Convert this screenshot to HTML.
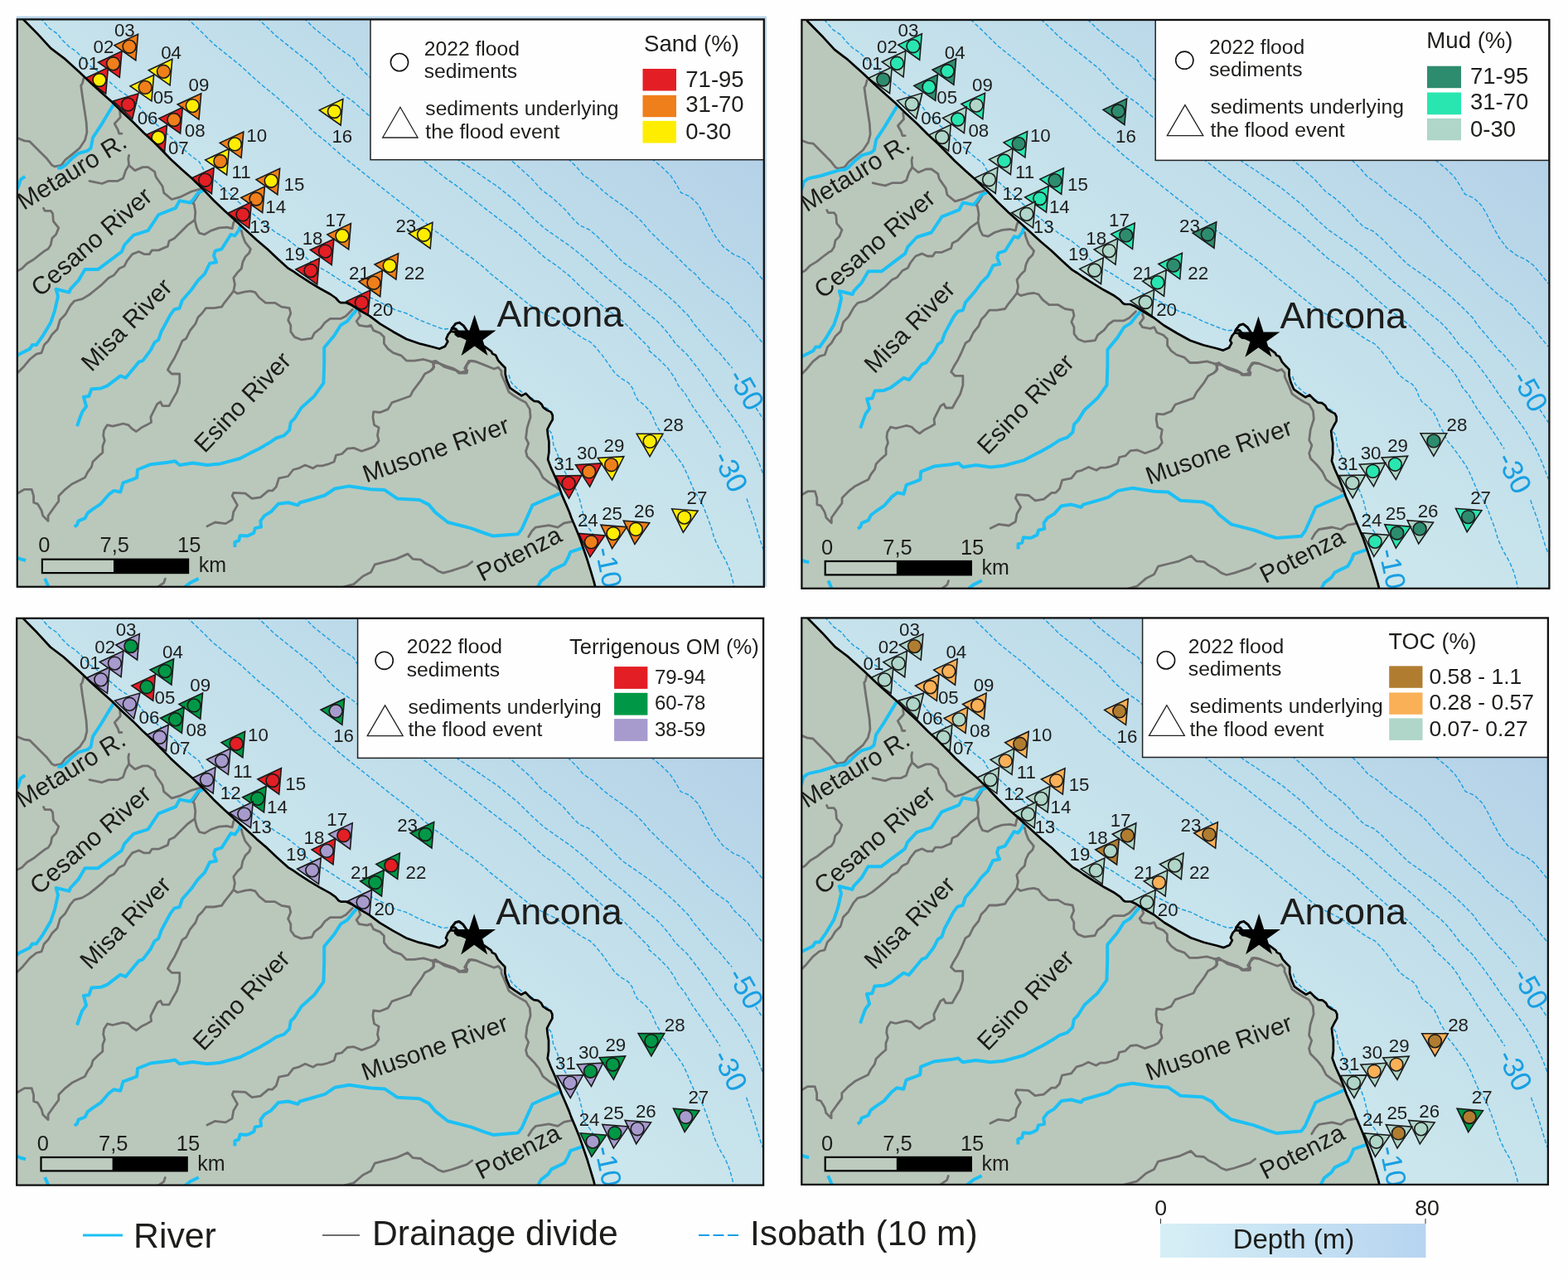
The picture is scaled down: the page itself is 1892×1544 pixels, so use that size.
<!DOCTYPE html>
<html lang="en"><head><meta charset="utf-8"><title>Sediment maps</title>
<style>html,body{margin:0;padding:0;background:#fff}svg{display:block}text{font-family:"Liberation Sans", Arial, sans-serif}</style></head><body>
<svg xmlns="http://www.w3.org/2000/svg" width="1892" height="1544" viewBox="0 0 1892 1544">
<rect width="1892" height="1544" fill="#fefefe"/>
<defs>
<clipPath id="cp1"><rect x="20.8" y="23.4" width="901" height="684.4"/></clipPath>
<linearGradient id="sea1" gradientUnits="userSpaceOnUse" x1="60" y1="170" x2="388.7" y2="-283.6">
<stop offset="0" stop-color="#cbe6ec"/><stop offset="0.45" stop-color="#c0ddea"/><stop offset="1" stop-color="#b0cde7"/></linearGradient>
<clipPath id="cp2"><rect x="967.4" y="24" width="902" height="685.8"/></clipPath>
<linearGradient id="sea2" gradientUnits="userSpaceOnUse" x1="1005.8" y1="171.8" x2="1334.5" y2="-281.8">
<stop offset="0" stop-color="#cbe6ec"/><stop offset="0.45" stop-color="#c0ddea"/><stop offset="1" stop-color="#b0cde7"/></linearGradient>
<clipPath id="cp3"><rect x="20.2" y="745.8" width="900.9" height="683.8"/></clipPath>
<linearGradient id="sea3" gradientUnits="userSpaceOnUse" x1="59.6" y1="892.4" x2="388.3" y2="438.8">
<stop offset="0" stop-color="#cbe6ec"/><stop offset="0.45" stop-color="#c0ddea"/><stop offset="1" stop-color="#b0cde7"/></linearGradient>
<clipPath id="cp4"><rect x="967.3" y="745.4" width="900.6" height="683.5"/></clipPath>
<linearGradient id="sea4" gradientUnits="userSpaceOnUse" x1="1006.5" y1="892.3" x2="1335.2" y2="438.7">
<stop offset="0" stop-color="#cbe6ec"/><stop offset="0.45" stop-color="#c0ddea"/><stop offset="1" stop-color="#b0cde7"/></linearGradient>
<linearGradient id="depth" x1="0" y1="0" x2="1" y2="0"><stop offset="0" stop-color="#d6eff6"/><stop offset="1" stop-color="#b6d4f0"/></linearGradient>
</defs>
<rect x="19.8" y="19.6" width="905.2" height="688.2" fill="#b5d3ea"/>
<g clip-path="url(#cp1)">
<rect x="20.8" y="23.4" width="901" height="684.4" fill="url(#sea1)"/>
<g fill="none" stroke="#189fe2" stroke-width="1.4" stroke-dasharray="5 2.6">
<path d="M48.6 21.6 L59.7 34.3 L69.2 40.6 L74.7 47.8 L83.5 56.5 L91.4 61.6 L102.5 72.4 L108.8 79.5 L116.8 85 L131.1 97.7 L143.7 108.8 L154.8 116 L166 125.5 L172.3 134.2 L185 146.9 L194.5 154.8 L204 163.6 L218.3 177.1 L231 188.2 L240.5 195.3 L245.3 204 L258 216.7 L273.8 231 L289.7 245.3 L299.2 253.2 L315.9 267 L331.7 279.7 L347.6 289.2 L363.5 301.9 L369.8 311.4 L382.5 320.9 L395.2 328 L411.1 338.4 L426.9 347.9 L436.4 354.2 L450.7 360.6 L466.6 368.5 L477.7 374.1 L490.4 378 L506.2 386 L522.1 392.3 L534.8 397.1 L542.7 396.3"/>
<path d="M613.9 452.2 L617.1 461.7 L623.5 468 L631.4 474.4 L642.5 480.7 L650.4 487.1 L661.5 493.4 L659.1 506.2 L661.5 517.4 L666.2 523.7 L667.8 536.4 L672.6 547.5 L677.4 561.8 L683.7 572.9 L694.8 590.3 L699.6 603 L702.7 615.7 L705.9 631.6 L712.3 639.5 L715.4 644.3 L718.6 655.4"/>
<path d="M225.4 21.6 L242.1 37.5 L258 53.3 L273.8 66 L289.7 78.7 L300 88.2 L315.9 102.5 L331.7 115.2 L347.6 129.5 L363.5 143.7 L379.3 159.6 L395.2 172.3 L411.1 186.6 L426.9 199.3 L442.8 212 L458.6 224.7 L474.5 237.3 L490.4 249.5 L506.2 262.2 L522.1 276.5 L538 287.6 L553.8 300.3 L569.7 311.4 L585.6 324.1 L591.7 330 L607.6 342.7 L623.5 355.4 L639.3 368.1 L655.2 377.6 L671.1 385.5 L686.9 396.6 L702.8 407.7 L712.3 412.5 L718.6 418.8 L726.6 428.4 L734.5 439.5 L742.4 450.6 L750.4 456.9 L758.3 461.7 L763.1 468 L766.2 476 L769.4 482.3 L777.3 488.6 L783.7 495 L788.5 504.5 L791.6 512.4 L796.4 520.4 L799.5 528.5 L807.4 538 L815.4 549.1 L823.3 560.2 L828.1 569.7 L832.8 580.8 L837.6 591.9 L843.9 601.4 L848.7 611 L853.5 623.6 L858.2 636.3 L861.4 647.4 L864.6 655.4 L869.3 664.9 L875.7 676 L880.4 687.1 L883.6 698.2 L886.4 710.1"/>
<path d="M310.3 21.6 L323.8 34.3 L331.7 42.2 L347.6 54.9 L363.5 67.6 L379.3 80.3 L388.8 89.8 L395.2 97.7 L401.5 104.1 L411.1 112 L426.9 123.1 L442.8 137.4 L511 193.7 L522.1 202.4 L538 215.1 L553.8 226.2 L569.7 238.9 L585.6 251.6 L600 262.7 L625 281.5 L640.9 295.8 L656.7 310.1 L672.6 321.2 L688.5 333.9 L701.2 346.6 L713.8 357.7 L726.5 368.8 L739.2 378.3 L751.9 387.8 L761.4 397.3 L771 406.9 L783.6 419.6 L782.1 422 L794.8 433.1 L805.9 444.2 L813.8 455.3 L818.5 465 L826.5 474.5 L836 490.4 L847.1 506.2 L855 517.4 L863 530 L869.3 539.6"/>
<path d="M901 601.4 L904.2 611 L909 623.6 L913.7 639.5 L918.5 655.4 L922.5 666.5"/>
<path d="M366.6 21.6 L379.3 34.3 L395.2 47 L411.1 59.7 L426.9 70.8 L431.7 78.7 L438 85 L446 93 L553.8 193.7 L569.7 204 L585.6 215.1 L600 224.7 L625 245 L640.9 260.9 L656.7 275.2 L672.6 286.3 L688.5 297.4 L704.3 310.1 L720.2 324.4 L736.1 338.6 L751.9 351.3 L764.6 362.4 L775.7 373.5 L791.6 386.2 L799.5 394.2 L807.4 403.7 L815.4 414.8 L829.7 428.4 L845.6 449 L853.5 460.1 L860 469.6 L863 474.5 L878.8 495.1 L894.7 517.4 L907.4 539.6 L915.3 557 L922.5 576.1"/>
<path d="M612.3 189.5 L625 200.6 L640.9 214.9 L653.6 229.2 L664.7 237.1 L680.5 251.4 L691.6 264.1 L699.6 272 L710.7 276.8 L720.2 284.7 L736.1 300.6 L751.9 316.4 L767.8 327.5 L783.6 338.6 L799.5 351.3 L815.4 365.6 L831.2 381.5 L837.6 391 L847.1 402.1 L855 411.6 L863 421.1 L867.7 424.9 L875 434 L883.6 444"/>
<path d="M912.1 492 L922.5 507.8"/>
<path d="M685.3 191.1 L696.4 202.2 L704.3 211.7 L715.4 218.9 L728.1 230.8 L736.1 237.1 L751.9 248.2 L767.8 260.9 L775.7 268.8 L783.6 278.4 L799.5 294.2 L815.4 308.5 L831.2 324.4 L839.2 330.7 L847.1 340.2 L863 354.5 L878.8 365.6 L886.8 376.7 L902.6 391 L910.6 402.1 L922.5 416.4"/>
<path d="M786 191.1 L799.5 202.2 L809 211.7 L815.4 221.2 L821.7 232.4 L832.8 237.1 L842.3 246.6 L848.7 257.7 L855 270.4 L863 284.7 L872.5 297.4 L885.2 306.9 L894.7 310.9 L904.2 318 L913.7 329.1 L922.5 340.2"/>
</g>
<text x="734.7" y="684.1" font-size="34" fill="#189fe2" text-anchor="middle" transform="rotate(78 734.7 684.1)" dominant-baseline="central">-10</text>
<text x="882" y="568.4" font-size="35" fill="#189fe2" text-anchor="middle" transform="rotate(63 882 568.4)" dominant-baseline="central">-30</text>
<text x="900.9" y="469.6" font-size="35" fill="#189fe2" text-anchor="middle" transform="rotate(60 900.9 469.6)" dominant-baseline="central">-50</text>
<g stroke="#1a1a1a" stroke-width="1.6" stroke-linejoin="miter">
<polygon points="163.8,72.7 166.5,41.3 138,54.6" fill="#ef7f1a"/><circle cx="156.1" cy="56.2" r="7.9" fill="#ef7f1a"/>
<polygon points="144.3,93.3 147,61.9 118.5,75.2" fill="#e31e24"/><circle cx="136.6" cy="76.8" r="7.9" fill="#ef7f1a"/>
<polygon points="127.7,113 130.4,81.6 101.9,94.9" fill="#e31e24"/><circle cx="120" cy="96.5" r="7.9" fill="#ffed00"/>
<polygon points="205.1,102.8 207.8,71.4 179.3,84.7" fill="#ffed00"/><circle cx="197.4" cy="86.3" r="7.9" fill="#ef7f1a"/>
<polygon points="182.9,121.9 185.6,90.5 157.1,103.8" fill="#ffed00"/><circle cx="175.2" cy="105.4" r="7.9" fill="#ef7f1a"/>
<polygon points="159.7,143.5 167,112.8 136.8,121.8" fill="#e31e24"/><circle cx="154.5" cy="126" r="7.9" fill="#e31e24"/>
<polygon points="240,144.1 242.7,112.7 214.2,126" fill="#ef7f1a"/><circle cx="232.3" cy="127.6" r="7.9" fill="#ffed00"/>
<polygon points="217.6,161 220.3,129.6 191.8,142.9" fill="#e31e24"/><circle cx="209.9" cy="144.5" r="7.9" fill="#ef7f1a"/>
<polygon points="198.7,182.5 201.4,151.1 172.9,164.4" fill="#e31e24"/><circle cx="191" cy="166" r="7.9" fill="#ffed00"/>
<polygon points="291.1,190.4 293.8,159 265.3,172.3" fill="#ef7f1a"/><circle cx="283.4" cy="173.9" r="7.9" fill="#ffed00"/>
<polygon points="273.6,211 276.3,179.6 247.8,192.9" fill="#ffed00"/><circle cx="265.9" cy="194.5" r="7.9" fill="#ef7f1a"/>
<polygon points="255.4,233.7 258.1,202.3 229.6,215.6" fill="#e31e24"/><circle cx="247.7" cy="217.2" r="7.9" fill="#e31e24"/>
<polygon points="334.9,234.7 337.6,203.3 309.1,216.6" fill="#ef7f1a"/><circle cx="327.2" cy="218.2" r="7.9" fill="#ffed00"/>
<polygon points="316.7,256.5 319.4,225.1 290.9,238.4" fill="#ef7f1a"/><circle cx="309" cy="240" r="7.9" fill="#ef7f1a"/>
<polygon points="300.7,275.3 303.4,243.9 274.9,257.2" fill="#e31e24"/><circle cx="293" cy="258.8" r="7.9" fill="#e31e24"/>
<polygon points="411.1,151 413.8,119.6 385.3,132.9" fill="#ffed00"/><circle cx="403.4" cy="134.5" r="7.9" fill="#ffed00"/>
<polygon points="420.7,300.9 423.4,269.5 394.9,282.8" fill="#ef7f1a"/><circle cx="413" cy="284.4" r="7.9" fill="#ffed00"/>
<polygon points="400.2,319.6 402.9,288.2 374.4,301.5" fill="#e31e24"/><circle cx="392.5" cy="303.1" r="7.9" fill="#e31e24"/>
<polygon points="382.7,343 385.4,311.6 356.9,324.9" fill="#e31e24"/><circle cx="375" cy="326.5" r="7.9" fill="#e31e24"/>
<polygon points="477.9,337.1 480.6,305.7 452.1,319" fill="#ef7f1a"/><circle cx="470.2" cy="320.6" r="7.9" fill="#ffed00"/>
<polygon points="458.7,357.7 461.4,326.3 432.9,339.6" fill="#ef7f1a"/><circle cx="451" cy="341.2" r="7.9" fill="#ef7f1a"/>
<polygon points="444.1,381.5 446.8,350.1 418.3,363.4" fill="#e31e24"/><circle cx="436.4" cy="365" r="7.9" fill="#e31e24"/>
<polygon points="519.2,299.7 521.9,268.3 493.4,281.6" fill="#ffed00"/><circle cx="511.5" cy="283.2" r="7.9" fill="#ffed00"/>
<polygon points="784.1,550.6 799.9,523.3 768.3,523.3" fill="#ffed00"/><circle cx="784.1" cy="532.4" r="7.9" fill="#ffed00"/>
<polygon points="738.6,578.9 752.8,550.7 721.4,552.5" fill="#ffed00"/><circle cx="737.6" cy="560.7" r="7.9" fill="#ef7f1a"/>
<polygon points="711.7,587.1 725.9,558.9 694.5,560.7" fill="#e31e24"/><circle cx="710.7" cy="568.9" r="7.9" fill="#ef7f1a"/>
<polygon points="686.5,601.1 701.7,573.5 670.2,574.1" fill="#e31e24"/><circle cx="686.1" cy="582.9" r="7.9" fill="#e31e24"/>
<polygon points="824.3,642.2 842.1,616.3 810.7,613.8" fill="#ffed00"/><circle cx="825.7" cy="624.1" r="7.9" fill="#ffed00"/>
<polygon points="765.9,656.5 783.7,630.6 752.3,628.1" fill="#ef7f1a"/><circle cx="767.3" cy="638.4" r="7.9" fill="#ffed00"/>
<polygon points="738.6,661.6 756.4,635.7 725,633.2" fill="#ef7f1a"/><circle cx="740" cy="643.5" r="7.9" fill="#ffed00"/>
<polygon points="712,671.9 729.8,646 698.4,643.5" fill="#e31e24"/><circle cx="713.4" cy="653.8" r="7.9" fill="#ef7f1a"/>
</g>
<polygon points="27.6,22 28.2,23.5 45.4,40.9 61.2,58.1 77.1,70.1 96.1,87.3 110,100.5 122.7,112 135.4,123.3 148.1,135.8 160.8,147.5 173.5,160.2 186.1,171.8 198.6,184.5 206.4,192.5 220,205 232.2,215.8 245.4,228.6 258.1,242 270.8,254.1 283.5,265.5 296.1,276.9 310,289.7 322.7,300.5 335.4,312.5 348.1,323.9 354.4,327.7 360.8,332.2 373.5,340.4 386.1,348 398.8,355 405.2,359.5 409,363.9 411.5,365.2 417.9,365.2 424.2,368 434.8,374.8 446,381.2 458.6,390.7 474.5,400.2 490.4,409 506.2,414.5 522.1,418.5 530.2,420.8 537.1,417.7 540.3,412 538.4,408.8 540.9,403.1 544.1,399.6 548.6,400.5 555.5,405.6 564.4,409.4 577.1,413.2 586,418.9 593,424 594.2,426.6 598.1,428.5 601.2,434.8 605.9,440 609.7,443.8 609.7,451.4 611.6,459 615.4,467.9 621.7,472.4 629.3,477.4 634.4,474.6 640.8,481.2 644.6,483.8 649.6,484.4 653.5,487.6 655.4,491.4 659.8,494.6 664.9,497.1 666.8,500.9 666.8,506 663.6,511.7 660.4,518 661.1,525 662.4,532.7 662.4,545.4 661.1,554.3 664.9,564.4 670.6,577.1 674.4,586.6 678.2,597.4 682.7,607.6 687.1,618 689.5,624.7 694.6,636.7 699,647.5 703.5,660.2 708.5,674.8 713,689.4 716.8,702.1 718.5,709 719.5,713 15,712 15,18" fill="#bac8bb"/>
<clipPath id="lc1"><polygon points="27.6,22 28.2,23.5 45.4,40.9 61.2,58.1 77.1,70.1 96.1,87.3 110,100.5 122.7,112 135.4,123.3 148.1,135.8 160.8,147.5 173.5,160.2 186.1,171.8 198.6,184.5 206.4,192.5 220,205 232.2,215.8 245.4,228.6 258.1,242 270.8,254.1 283.5,265.5 296.1,276.9 310,289.7 322.7,300.5 335.4,312.5 348.1,323.9 354.4,327.7 360.8,332.2 373.5,340.4 386.1,348 398.8,355 405.2,359.5 409,363.9 411.5,365.2 417.9,365.2 424.2,368 434.8,374.8 446,381.2 458.6,390.7 474.5,400.2 490.4,409 506.2,414.5 522.1,418.5 530.2,420.8 537.1,417.7 540.3,412 538.4,408.8 540.9,403.1 544.1,399.6 548.6,400.5 555.5,405.6 564.4,409.4 577.1,413.2 586,418.9 593,424 594.2,426.6 598.1,428.5 601.2,434.8 605.9,440 609.7,443.8 609.7,451.4 611.6,459 615.4,467.9 621.7,472.4 629.3,477.4 634.4,474.6 640.8,481.2 644.6,483.8 649.6,484.4 653.5,487.6 655.4,491.4 659.8,494.6 664.9,497.1 666.8,500.9 666.8,506 663.6,511.7 660.4,518 661.1,525 662.4,532.7 662.4,545.4 661.1,554.3 664.9,564.4 670.6,577.1 674.4,586.6 678.2,597.4 682.7,607.6 687.1,618 689.5,624.7 694.6,636.7 699,647.5 703.5,660.2 708.5,674.8 713,689.4 716.8,702.1 718.5,709 719.5,713 15,712 15,18"/></clipPath>
<g clip-path="url(#lc1)">
<g fill="none" stroke="#716f6f" stroke-width="2.8" stroke-linejoin="round" stroke-linecap="round">
<path d="M100.9 94.6 L99.3 100.9 L97.7 103.3 L99.3 115.2 L101.7 131.1 L104.1 146.9 L104.9 159.6 L102.5 169.1 L96.2 178.6 L86.6 186.6 L78.7 192.9 L73.9 199.3 L66 200.9 L62.8 199.3 L56.5 191.3 L48.6 183.4 L35.9 170.7 L29.5 169.9 L20 166"/>
<path d="M144.5 133.4 L145.3 141.4 L138.2 149.3 L142.2 156.4 L143.7 161.2 L146.9 161.2"/>
<path d="M155.6 187.4 L154.8 191.3 L155.6 199.3 L151.7 205.6 L148.5 215.1 L142.2 218.3 L131.1 218.3 L123.1 221.5 L115.2 219.9 L108 218.3"/>
<path d="M155.6 199.3 L162.8 205.6 L172.3 201.6 L178.6 201.6 L186.6 207.2 L188.2 213.5 L196.1 224.7 L197.7 232.6 L207.2 240.5 L218.3 237.3 L231 231 L242.1 227.8"/>
<path d="M242.1 230.2 L232.6 245.3 L234.2 246.3 L235.8 255.9 L235 265.4 L226.2 271.7 L216.7 281.2 L210.4 287.6 L204 290.8 L202.4 297.1 L191.3 301.9 L183.4 301.9 L180.2 306.6 L173.9 306.6 L167.5 303.5 L159.6 306.6 L153.3 314.6 L150.1 320.9 L143.7 324.1 L137.4 332 L131.1 335.2 L123.1 343.1 L115.2 349.5 L107.3 355.8 L99.3 360.6 L89.8 363 L85 368.5 L78.7 379.6 L72.4 386 L69.2 397.1 L62.8 403.4 L58.1 411.3 L53.3 416.1 L50.1 425.6 L43.8 427.2 L35.9 433.5 L27.9 443.1 L20 451"/>
<path d="M235 265.4 L237.3 274.9 L240.5 281.2 L246.9 282.8 L254.8 278.1 L264.3 274.9 L273.8 274.1 L280.2 275.7 L281.8 268.6 L283.4 265.4 L289.7 265.4"/>
<path d="M52.5 251.1 L54.1 254.3 L61.2 254.3 L63.6 257.5 L64.4 267 L70.8 274.9 L67.6 282.8 L62.8 287.6 L61.2 295.5 L58.1 300.3 L54.9 301.9 L48.6 306.6 L40.6 313 L32.7 317.7 L26.3 324.1 L20 327.3"/>
<path d="M291.3 278.1 L292.9 284.4 L296 292.4 L302.4 300.3 L300.8 305 L296 309.8 L292.9 316.2 L291.3 324.1 L286.5 328.8 L281.8 335.2 L283.4 343.1 L281.8 351.1 L277 357.4 L270.7 365.3 L267.5 370.1 L258 371.7 L248.5 371.7 L243.7 378 L238.9 382.8 L235.8 390.7 L229.4 398.6 L224.7 408.2 L219.9 411.3 L215.1 422.4 L210.4 432 L205.6 439.9 L202.4 446.2 L207.2 451 L216.7 451 L216.7 462.1 L213.5 472.9 L208.8 480.9 L204 489.6 L196.1 489.6 L193.7 484.8 L189.8 487.2 L185 496.7 L181.8 503.1 L182.6 509.4 L177.1 512.6 L170.7 515.8 L164.4 520.5 L159.6 517.4 L154.8 512.6 L148.5 511 L142.2 512.6 L135.8 514.2 L129.5 512.6 L125.5 518.9 L124.7 525.3 L126.3 531.6 L123.9 538 L123.9 545.9 L118.4 550.7 L112 557 L110.4 563.4 L105.7 569.7 L102.5 576.1 L96.2 579.2 L86.6 584 L78.7 590.3 L70.8 598.3 L70.8 604.6 L66 611 L58.1 622.1 L58.1 628.4 L51.7 622.1 L50.1 615.7 L45.4 607.8 L40.6 606.2 L40.6 598.3 L38.2 590.3 L29.5 590.3 L20 595.9"/>
<path d="M281.8 351.1 L286.5 354.2 L296 351.8 L302.4 351.1 L307.9 352.6 L312.7 359 L320.6 365.3 L331.7 365.3 L339.7 370.1 L349.2 371.7 L350.8 378 L347.6 386 L350.8 392.3 L350.8 400.2 L355.5 406.6 L363.5 409.8 L376.2 408.2 L379.3 401.8 L387.3 395.5 L392 389.1 L398.4 384.4 L411.1 384.4 L417.4 381.2 L425.3 373.3"/>
<path d="M433.3 376.4 L434.8 381.2 L430.1 387.5 L433.3 392.3 L442.8 393.9 L447.5 392.3 L450.7 398.6 L458.6 401.8 L463.4 406.6 L463.4 414.5 L468.2 420.9 L474.5 425.6 L484 428.8 L490.4 435.1 L499.9 435.1 L511 433.5 L522.1 436.7 L523.7 443.1 L518.9 447.8 L512.6 451 L507.8 458.9 L498.3 471.3 L495.1 477.7 L484 481.7 L472.9 485.6 L468.2 493.6 L458.6 497.5 L450.7 496.7 L449.9 503.1 L451.5 512.6 L457.1 515.8 L455.5 525.3 L457.1 531.6 L452.3 538 L447.5 540.4 L436.4 544.3 L426.9 540.4 L419 541.2 L412.6 547.5 L405.5 549.1 L403.1 557 L395.2 560.2 L388.8 561.8 L382.5 561.8 L377.7 564.9 L368.2 561 L360.3 564.9 L353.9 566.5 L347.6 574.5 L336.5 576.8 L333.3 587.2 L328.6 591.9 L323.8 591.9 L314.3 599.8 L304 601.4 L296 595.1 L281.8 594.3 L280.2 598.3 L286.5 609.4 L281.8 617.3 L280.2 626.8 L272.2 631.6 L259.6 630 L250 634.8"/>
<path d="M522.1 436.7 L530 438.3 L538 441.5 L547.5 444.7 L555.4 449.4 L561.8 447.8 L563.4 439.9 L568.1 435.1 L573.9 436.1 L583.5 439.9 L596.2 445 L601.2 443.1 L605 447.5 L605 451.9 L608.8 460.2 L610.8 464.8 L613.9 472.8 L620.3 477.5 L628.2 482.3 L634.5 485.6 L639.3 493.6 L640.1 503.1 L636.1 515.8 L634.5 528.5 L637.7 534.8 L634.5 544.3 L636.1 550.7 L644 558.6 L650.4 566.5 L655.1 576.1 L663.1 582.4 L671 587.2 L674.2 590.3"/>
<path d="M525.7 435.4 L523.2 439.9 L522.5 445 L520 446.9"/>
<path d="M520 436.7 L525.7 435.4 L535.9 442.4 L550.5 446.9 L553.6 450 L563.2 450 L563.8 446.9 L560.6 444.3 L565.7 435.4 L573.9 436.1"/>
<path d="M409.5 709.3 L426.9 704.6 L438 695 L447.5 690.3 L452.3 680.8 L465 677.6 L477.7 674.4 L492 668.1 L498.3 674.4 L507.8 675.2 L512.6 679.2 L522.1 683.9 L528.5 688.7 L534.8 691.1 L544.3 688.7 L553.8 685.5 L563.4 682.3 L569.7 677.6"/>
<path d="M637.7 647.5 L641.9 640.6 L646.3 636.1 L662.2 633.6 L673 636.1 L680.6 631 L690.8 629.1"/>
<path d="M199.3 698.2 L197.7 703 L189.8 708.5"/>
</g>
<g fill="none" stroke="#1cc0f4" stroke-width="4" stroke-linejoin="round" stroke-linecap="butt">
<path d="M140.5 120.4 L137.4 125.5 L131.1 135.8 L121.5 151.7 L112 166 L109.6 178.6 L105.7 181.8 L94.6 185 L86.6 191.3 L78.7 199.3 L73.9 202.4 L69.2 202.4"/>
<path d="M30.3 212.8 L24.8 216.7 L22.4 224.7 L20 229.4"/>
<path d="M250 227.8 L244.5 230.2 L238.9 232.6 L232.6 241.3 L229.4 244.5 L216.7 242.1 L212 250.8 L191.3 259 L178.6 278.1 L161.2 283.6 L150.1 295.5 L146.9 303.5 L118.4 324.9 L102.5 324.9 L94.6 338.4 L85 348.7 L83.5 352.6 L67.6 348.7 L70 357.4 L66 374.8 L61.2 389.1 L51.7 405 L43.8 416.1 L39 416.1 L35.9 420.9 L23.2 427.2 L18.4 431.2"/>
<path d="M291.9 268.5 L289.7 274.1 L288.1 278.1 L283.4 284.4 L278.6 282.8 L267.5 300.3 L259.6 302.7 L258 308.2 L261.1 316.2 L253.2 317.7 L246.9 330.4 L238.9 338.4 L231 349.5 L219.9 362.2 L216.7 371.7 L210.4 373.3 L205.6 379.6 L194.5 400.2 L191.3 409.8 L186.6 412.9 L181.8 422.4 L172.3 435.1 L167.5 436.7 L151.7 455.8 L145.3 453.4 L129.5 465.3 L121.5 468.5 L110.4 469.2 L107.3 478 L100.9 478.8 L104.1 490.4 L99.3 496.7 L96.2 504.7 L93 514.2"/>
<path d="M434 369.6 L430.1 374.1 L425.3 379.6 L419 387.5 L411.1 392.3 L403.1 405 L395.2 414.5 L391.2 419.3 L391.2 438.3 L390.4 462.1 L379.3 477.7 L363.5 492 L355.5 504.7 L350.8 509.4 L349.2 518.9 L342.8 525.3 L333.3 528.5 L323.8 534.8 L312.7 541.2 L304.8 545.1 L289.7 553 L265.9 559.4 L250 561 L232.6 558.6 L216.7 561 L211.2 556.2 L202.4 557.8 L181.8 560.2 L166 566.5 L165.2 576.1 L159.6 578.4 L148.5 582.4 L145.3 593.5 L137.4 591.9 L131.1 596.7 L121.5 607.8 L112 614.1 L105.7 618.9 L102.5 625.2 L94.6 628.4 L93 633.2 L89.8 635.5"/>
<path d="M283.4 660.1 L283.4 653.8 L288.1 652.2 L289.7 645.9 L297.6 646.6 L300 645.9 L306.3 642.7 L307.9 637.1 L315.1 635.5 L314.3 628.4 L319 622.1 L327 617.3 L335.7 607.8 L347.6 606.2 L359.5 609.4 L361.9 606.2 L376.2 602.2 L392 597.5 L403.9 589.5 L421.4 586.4 L447.5 590.3 L464.2 591.1 L479.3 601.4 L506.2 603 L517.3 608.6 L525.3 618.1 L540.3 630 L568.1 637.1 L585.6 643.5 L595.1 646.6 L625 644.3 L629.8 637.9 L636.1 623.6 L642.5 609.4 L656.7 603 L664.7 599.8 L675.8 595.1 L681.3 592.8"/>
<path d="M708.5 659 L702.8 660.9 L688.2 665.9 L685.7 672.3 L681.2 680.5 L665.4 688.1 L661.6 693.9 L652.7 700.8 L648 710"/>
<path d="M19.2 672 L24.8 674.4 L31.1 676"/>
<path d="M54.1 697.9 L56.5 703 L58.9 709.3"/>
<path d="M239.7 697.9 L229.4 703 L221.5 709.3"/>
</g></g>
<path d="M27.6 22 L28.2 23.5 L45.4 40.9 L61.2 58.1 L77.1 70.1 L96.1 87.3 L110 100.5 L122.7 112 L135.4 123.3 L148.1 135.8 L160.8 147.5 L173.5 160.2 L186.1 171.8 L198.6 184.5 L206.4 192.5 L220 205 L232.2 215.8 L245.4 228.6 L258.1 242 L270.8 254.1 L283.5 265.5 L296.1 276.9 L310 289.7 L322.7 300.5 L335.4 312.5 L348.1 323.9 L354.4 327.7 L360.8 332.2 L373.5 340.4 L386.1 348 L398.8 355 L405.2 359.5 L409 363.9 L411.5 365.2 L417.9 365.2 L424.2 368 L434.8 374.8 L446 381.2 L458.6 390.7 L474.5 400.2 L490.4 409 L506.2 414.5 L522.1 418.5 L530.2 420.8 L537.1 417.7 L540.3 412 L538.4 408.8 L540.9 403.1 L544.1 399.6 L548.6 400.5 L555.5 405.6 L564.4 409.4 L577.1 413.2 L586 418.9 L593 424 L594.2 426.6 L598.1 428.5 L601.2 434.8 L605.9 440 L609.7 443.8 L609.7 451.4 L611.6 459 L615.4 467.9 L621.7 472.4 L629.3 477.4 L634.4 474.6 L640.8 481.2 L644.6 483.8 L649.6 484.4 L653.5 487.6 L655.4 491.4 L659.8 494.6 L664.9 497.1 L666.8 500.9 L666.8 506 L663.6 511.7 L660.4 518 L661.1 525 L662.4 532.7 L662.4 545.4 L661.1 554.3 L664.9 564.4 L670.6 577.1 L674.4 586.6 L678.2 597.4 L682.7 607.6 L687.1 618 L689.5 624.7 L694.6 636.7 L699 647.5 L703.5 660.2 L708.5 674.8 L713 689.4 L716.8 702.1 L718.5 709 L719.5 713" fill="none" stroke="#000" stroke-width="2.7" stroke-linejoin="round"/>
<g fill="none" stroke="#000" stroke-width="3" stroke-linejoin="round" stroke-linecap="round">
<path d="M544.1 399.6 L545.4 396.1 L549.8 390.4 L554.3 389.1 L559.3 392.9 L561.9 396.7 L564.4 400.5"/>
<path d="M545.4 396.1 L549.8 396.7 L553 400.5 L558.1 403.1 L563.2 404.3"/>
<path d="M549.8 403.1 L553 405.6 L558.1 405.6"/>
</g>
<polygon points="572.6,379.8 578.7,398.6 598.5,398.6 582.5,410.2 588.6,429 572.6,417.4 556.6,429 562.7,410.2 546.7,398.6 566.5,398.6" fill="#000"/>
<text x="599.6" y="393.6" font-size="45" fill="#1d1d1b">Ancona</text>
<text x="28.7" y="254" font-size="30" fill="#1d1d1b" transform="rotate(-31.5 28.7 254)">Metauro R.</text>
<text x="48.5" y="359" font-size="30" fill="#1d1d1b" transform="rotate(-41 48.5 359)">Cesano River</text>
<text x="110.5" y="449.5" font-size="30" fill="#1d1d1b" transform="rotate(-45.7 110.5 449.5)">Misa River</text>
<text x="247" y="547.5" font-size="30" fill="#1d1d1b" transform="rotate(-46.3 247 547.5)">Esino River</text>
<text x="442" y="582.5" font-size="30" fill="#1d1d1b" transform="rotate(-19.4 442 582.5)">Musone River</text>
<text x="582" y="702" font-size="30" fill="#1d1d1b" transform="rotate(-27 582 702)">Potenza</text>
<text x="94.3" y="84.1" font-size="22.3" fill="#1d1d1b">01</text>
<text x="112.5" y="64.2" font-size="22.3" fill="#1d1d1b">02</text>
<text x="137.9" y="43.6" font-size="22.3" fill="#1d1d1b">03</text>
<text x="194.2" y="70.6" font-size="22.3" fill="#1d1d1b">04</text>
<text x="184.7" y="125.3" font-size="22.3" fill="#1d1d1b">05</text>
<text x="165.7" y="149.9" font-size="22.3" fill="#1d1d1b">06</text>
<text x="202.9" y="186.4" font-size="22.3" fill="#1d1d1b">07</text>
<text x="222.8" y="165" font-size="22.3" fill="#1d1d1b">08</text>
<text x="227.5" y="110.2" font-size="22.3" fill="#1d1d1b">09</text>
<text x="297.3" y="170.5" font-size="22.3" fill="#1d1d1b">10</text>
<text x="279.5" y="215" font-size="22.3" fill="#1d1d1b">11</text>
<text x="264" y="241.1" font-size="22.3" fill="#1d1d1b">12</text>
<text x="301.2" y="281.3" font-size="22.3" fill="#1d1d1b">13</text>
<text x="320.3" y="257.3" font-size="22.3" fill="#1d1d1b">14</text>
<text x="342.5" y="230" font-size="22.3" fill="#1d1d1b">15</text>
<text x="400.4" y="172.1" font-size="22.3" fill="#1d1d1b">16</text>
<text x="392.5" y="273.1" font-size="22.3" fill="#1d1d1b">17</text>
<text x="364.7" y="294.5" font-size="22.3" fill="#1d1d1b">18</text>
<text x="343.3" y="314.4" font-size="22.3" fill="#1d1d1b">19</text>
<text x="449.6" y="381" font-size="22.3" fill="#1d1d1b">20</text>
<text x="421.1" y="336.6" font-size="22.3" fill="#1d1d1b">21</text>
<text x="487.7" y="336.6" font-size="22.3" fill="#1d1d1b">22</text>
<text x="477.4" y="279.5" font-size="22.3" fill="#1d1d1b">23</text>
<text x="696.9" y="634.6" font-size="22.3" fill="#1d1d1b">24</text>
<text x="726.2" y="626.6" font-size="22.3" fill="#1d1d1b">25</text>
<text x="765.1" y="624.3" font-size="22.3" fill="#1d1d1b">26</text>
<text x="828.6" y="607.6" font-size="22.3" fill="#1d1d1b">27</text>
<text x="800" y="520.3" font-size="22.3" fill="#1d1d1b">28</text>
<text x="728.6" y="544.9" font-size="22.3" fill="#1d1d1b">29</text>
<text x="696.1" y="553.6" font-size="22.3" fill="#1d1d1b">30</text>
<text x="668.3" y="567.1" font-size="22.3" fill="#1d1d1b">31</text>
<text x="53.3" y="666.3" font-size="25.5" fill="#1d1d1b" text-anchor="middle">0</text>
<text x="138.2" y="666.3" font-size="25.5" fill="#1d1d1b" text-anchor="middle">7,5</text>
<text x="228.3" y="666.3" font-size="25.5" fill="#1d1d1b" text-anchor="middle">15</text>
<rect x="49.8" y="673.6" width="178.4" height="18.6" fill="#000"/>
<rect x="52" y="675.8" width="85" height="14.2" fill="#bdcbbe"/>
<text x="239.7" y="690.3" font-size="25" fill="#1d1d1b">km</text>
<rect x="447" y="23.4" width="474.8" height="169.3" fill="#fefefe" stroke="#222" stroke-width="1.5"/>
<circle cx="482" cy="75.1" r="10.6" fill="none" stroke="#111" stroke-width="1.6"/>
<polygon points="482.9,129.2 461.7,166 504.1,166" fill="none" stroke="#222" stroke-width="1.3"/>
<text x="511.7" y="66.8" font-size="24.7" fill="#1d1d1b">2022 flood</text>
<text x="511.7" y="94.3" font-size="24.7" fill="#1d1d1b">sediments</text>
<text x="513.3" y="139.2" font-size="24.7" fill="#1d1d1b">sediments underlying</text>
<text x="513.3" y="167.2" font-size="24.7" fill="#1d1d1b">the flood event</text>
<text x="777" y="61.9" font-size="27.6" fill="#1d1d1b">Sand (%)</text>
<rect x="775.5" y="83" width="40.5" height="26.5" fill="#e31e24"/>
<rect x="775.5" y="114.8" width="40.5" height="26.4" fill="#ef7f1a"/>
<rect x="775.5" y="145.8" width="40.5" height="26.7" fill="#ffed00"/>
<text x="827.3" y="104.9" font-size="27.5" fill="#1d1d1b">71-95</text>
<text x="827.3" y="135.2" font-size="27.5" fill="#1d1d1b">31-70</text>
<text x="827.3" y="168.3" font-size="27.5" fill="#1d1d1b">0-30</text>
</g>
<rect x="20.8" y="23.4" width="901" height="684.4" fill="none" stroke="#111" stroke-width="2.3"/>
<g clip-path="url(#cp2)">
<rect x="967.4" y="24" width="902" height="685.8" fill="url(#sea2)"/>
<g fill="none" stroke="#189fe2" stroke-width="1.4" stroke-dasharray="5 2.6">
<path d="M994.4 23.4 L1005.5 36.1 L1015 42.4 L1020.5 49.6 L1029.3 58.3 L1037.2 63.4 L1048.3 74.2 L1054.6 81.3 L1062.6 86.8 L1076.9 99.5 L1089.5 110.6 L1100.6 117.8 L1111.8 127.3 L1118.1 136 L1130.8 148.7 L1140.3 156.6 L1149.8 165.4 L1164.1 178.9 L1176.8 190 L1186.3 197.1 L1191.1 205.8 L1203.8 218.5 L1219.6 232.8 L1235.5 247.1 L1245 255 L1261.7 268.8 L1277.5 281.5 L1293.4 291 L1309.3 303.7 L1315.6 313.2 L1328.3 322.7 L1341 329.8 L1356.9 340.2 L1372.7 349.7 L1382.2 356 L1396.5 362.4 L1412.4 370.3 L1423.5 375.9 L1436.2 379.8 L1452 387.8 L1467.9 394.1 L1480.6 398.9 L1488.5 398.1"/>
<path d="M1559.7 454 L1562.9 463.5 L1569.3 469.8 L1577.2 476.2 L1588.3 482.5 L1596.2 488.9 L1607.3 495.2 L1604.9 508 L1607.3 519.2 L1612 525.5 L1613.6 538.2 L1618.4 549.3 L1623.2 563.6 L1629.5 574.7 L1640.6 592.1 L1645.4 604.8 L1648.5 617.5 L1651.7 633.4 L1658.1 641.3 L1661.2 646.1 L1664.4 657.2"/>
<path d="M1171.2 23.4 L1187.9 39.3 L1203.8 55.1 L1219.6 67.8 L1235.5 80.5 L1245.8 90 L1261.7 104.3 L1277.5 117 L1293.4 131.3 L1309.3 145.5 L1325.1 161.4 L1341 174.1 L1356.9 188.4 L1372.7 201.1 L1388.6 213.8 L1404.4 226.5 L1420.3 239.1 L1436.2 251.3 L1452 264 L1467.9 278.3 L1483.8 289.4 L1499.6 302.1 L1515.5 313.2 L1531.4 325.9 L1537.5 331.8 L1553.4 344.5 L1569.3 357.2 L1585.1 369.9 L1601 379.4 L1616.9 387.3 L1632.7 398.4 L1648.6 409.5 L1658.1 414.3 L1664.4 420.6 L1672.4 430.2 L1680.3 441.3 L1688.2 452.4 L1696.2 458.7 L1704.1 463.5 L1708.9 469.8 L1712 477.8 L1715.2 484.1 L1723.1 490.4 L1729.5 496.8 L1734.3 506.3 L1737.4 514.2 L1742.2 522.2 L1745.3 530.3 L1753.2 539.8 L1761.2 550.9 L1769.1 562 L1773.9 571.5 L1778.6 582.6 L1783.4 593.7 L1789.7 603.2 L1794.5 612.8 L1799.3 625.4 L1804 638.1 L1807.2 649.2 L1810.4 657.2 L1815.1 666.7 L1821.5 677.8 L1826.2 688.9 L1829.4 700 L1832.2 711.9"/>
<path d="M1256.1 23.4 L1269.6 36.1 L1277.5 44 L1293.4 56.7 L1309.3 69.4 L1325.1 82.1 L1334.6 91.6 L1341 99.5 L1347.3 105.9 L1356.9 113.8 L1372.7 124.9 L1388.6 139.2 L1456.8 195.5 L1467.9 204.2 L1483.8 216.9 L1499.6 228 L1515.5 240.7 L1531.4 253.4 L1545.8 264.5 L1570.8 283.3 L1586.7 297.6 L1602.5 311.9 L1618.4 323 L1634.3 335.7 L1647 348.4 L1659.6 359.5 L1672.3 370.6 L1685 380.1 L1697.7 389.6 L1707.2 399.1 L1716.8 408.7 L1729.4 421.4 L1727.9 423.8 L1740.6 434.9 L1751.7 446 L1759.6 457.1 L1764.3 466.8 L1772.3 476.3 L1781.8 492.2 L1792.9 508 L1800.8 519.2 L1808.8 531.8 L1815.1 541.4"/>
<path d="M1846.8 603.2 L1850 612.8 L1854.8 625.4 L1859.5 641.3 L1864.3 657.2 L1868.3 668.3"/>
<path d="M1312.4 23.4 L1325.1 36.1 L1341 48.8 L1356.9 61.5 L1372.7 72.6 L1377.5 80.5 L1383.8 86.8 L1391.8 94.8 L1499.6 195.5 L1515.5 205.8 L1531.4 216.9 L1545.8 226.5 L1570.8 246.8 L1586.7 262.7 L1602.5 277 L1618.4 288.1 L1634.3 299.2 L1650.1 311.9 L1666 326.2 L1681.9 340.4 L1697.7 353.1 L1710.4 364.2 L1721.5 375.3 L1737.4 388 L1745.3 396 L1753.2 405.5 L1761.2 416.6 L1775.5 430.2 L1791.4 450.8 L1799.3 461.9 L1805.8 471.4 L1808.8 476.3 L1824.6 496.9 L1840.5 519.2 L1853.2 541.4 L1861.1 558.8 L1868.3 577.9"/>
<path d="M1558.1 191.3 L1570.8 202.4 L1586.7 216.7 L1599.4 231 L1610.5 238.9 L1626.3 253.2 L1637.4 265.9 L1645.4 273.8 L1656.5 278.6 L1666 286.5 L1681.9 302.4 L1697.7 318.2 L1713.6 329.3 L1729.4 340.4 L1745.3 353.1 L1761.2 367.4 L1777 383.3 L1783.4 392.8 L1792.9 403.9 L1800.8 413.4 L1808.8 422.9 L1813.5 426.7 L1820.8 435.8 L1829.4 445.8"/>
<path d="M1857.9 493.8 L1868.3 509.6"/>
<path d="M1631.1 192.9 L1642.2 204 L1650.1 213.5 L1661.2 220.7 L1673.9 232.6 L1681.9 238.9 L1697.7 250 L1713.6 262.7 L1721.5 270.6 L1729.4 280.2 L1745.3 296 L1761.2 310.3 L1777 326.2 L1785 332.5 L1792.9 342 L1808.8 356.3 L1824.6 367.4 L1832.6 378.5 L1848.4 392.8 L1856.4 403.9 L1868.3 418.2"/>
<path d="M1731.8 192.9 L1745.3 204 L1754.8 213.5 L1761.2 223 L1767.5 234.2 L1778.6 238.9 L1788.1 248.4 L1794.5 259.5 L1800.8 272.2 L1808.8 286.5 L1818.3 299.2 L1831 308.7 L1840.5 312.7 L1850 319.8 L1859.5 330.9 L1868.3 342"/>
</g>
<text x="1680.5" y="685.9" font-size="34" fill="#189fe2" text-anchor="middle" transform="rotate(78 1680.5 685.9)" dominant-baseline="central">-10</text>
<text x="1827.8" y="570.2" font-size="35" fill="#189fe2" text-anchor="middle" transform="rotate(63 1827.8 570.2)" dominant-baseline="central">-30</text>
<text x="1846.7" y="471.4" font-size="35" fill="#189fe2" text-anchor="middle" transform="rotate(60 1846.7 471.4)" dominant-baseline="central">-50</text>
<g stroke="#1a1a1a" stroke-width="1.6" stroke-linejoin="miter">
<polygon points="1109.6,72.2 1112.3,40.8 1083.8,54.1" fill="#29e6b0"/><circle cx="1101.9" cy="55.7" r="7.9" fill="#29e6b0"/>
<polygon points="1090.1,92.8 1092.8,61.4 1064.3,74.7" fill="#afd6c8"/><circle cx="1082.4" cy="76.3" r="7.9" fill="#29e6b0"/>
<polygon points="1073.5,112.5 1076.2,81.1 1047.7,94.4" fill="#afd6c8"/><circle cx="1065.8" cy="96" r="7.9" fill="#2e8c6e"/>
<polygon points="1150.9,102.3 1153.6,70.9 1125.1,84.2" fill="#2e8c6e"/><circle cx="1143.2" cy="85.8" r="7.9" fill="#29e6b0"/>
<polygon points="1128.7,121.4 1131.4,90 1102.9,103.3" fill="#2e8c6e"/><circle cx="1121" cy="104.9" r="7.9" fill="#29e6b0"/>
<polygon points="1105.5,143 1112.8,112.3 1082.6,121.3" fill="#afd6c8"/><circle cx="1100.3" cy="125.5" r="7.9" fill="#afd6c8"/>
<polygon points="1185.8,143.6 1188.5,112.2 1160,125.5" fill="#29e6b0"/><circle cx="1178.1" cy="127.1" r="7.9" fill="#afd6c8"/>
<polygon points="1163.4,160.5 1166.1,129.1 1137.6,142.4" fill="#afd6c8"/><circle cx="1155.7" cy="144" r="7.9" fill="#29e6b0"/>
<polygon points="1144.5,182 1147.2,150.6 1118.7,163.9" fill="#afd6c8"/><circle cx="1136.8" cy="165.5" r="7.9" fill="#afd6c8"/>
<polygon points="1236.9,189.9 1239.6,158.5 1211.1,171.8" fill="#29e6b0"/><circle cx="1229.2" cy="173.4" r="7.9" fill="#2e8c6e"/>
<polygon points="1219.4,210.5 1222.1,179.1 1193.6,192.4" fill="#afd6c8"/><circle cx="1211.7" cy="194" r="7.9" fill="#29e6b0"/>
<polygon points="1201.2,233.2 1203.9,201.8 1175.4,215.1" fill="#afd6c8"/><circle cx="1193.5" cy="216.7" r="7.9" fill="#afd6c8"/>
<polygon points="1280.7,234.2 1283.4,202.8 1254.9,216.1" fill="#29e6b0"/><circle cx="1273" cy="217.7" r="7.9" fill="#2e8c6e"/>
<polygon points="1262.5,256 1265.2,224.6 1236.7,237.9" fill="#29e6b0"/><circle cx="1254.8" cy="239.5" r="7.9" fill="#29e6b0"/>
<polygon points="1246.5,274.8 1249.2,243.4 1220.7,256.7" fill="#afd6c8"/><circle cx="1238.8" cy="258.3" r="7.9" fill="#afd6c8"/>
<polygon points="1356.9,150.5 1359.6,119.1 1331.1,132.4" fill="#2e8c6e"/><circle cx="1349.2" cy="134" r="7.9" fill="#2e8c6e"/>
<polygon points="1366.5,300.4 1369.2,269 1340.7,282.3" fill="#29e6b0"/><circle cx="1358.8" cy="283.9" r="7.9" fill="#2e8c6e"/>
<polygon points="1346,319.1 1348.7,287.7 1320.2,301" fill="#afd6c8"/><circle cx="1338.3" cy="302.6" r="7.9" fill="#afd6c8"/>
<polygon points="1328.5,342.5 1331.2,311.1 1302.7,324.4" fill="#afd6c8"/><circle cx="1320.8" cy="326" r="7.9" fill="#afd6c8"/>
<polygon points="1423.7,336.6 1426.4,305.2 1397.9,318.5" fill="#29e6b0"/><circle cx="1416" cy="320.1" r="7.9" fill="#2e8c6e"/>
<polygon points="1404.5,357.2 1407.2,325.8 1378.7,339.1" fill="#afd6c8"/><circle cx="1396.8" cy="340.7" r="7.9" fill="#29e6b0"/>
<polygon points="1389.9,381 1392.6,349.6 1364.1,362.9" fill="#afd6c8"/><circle cx="1382.2" cy="364.5" r="7.9" fill="#afd6c8"/>
<polygon points="1465,299.2 1467.7,267.8 1439.2,281.1" fill="#2e8c6e"/><circle cx="1457.3" cy="282.7" r="7.9" fill="#2e8c6e"/>
<polygon points="1729.9,550.1 1745.7,522.8 1714.1,522.8" fill="#afd6c8"/><circle cx="1729.9" cy="531.9" r="7.9" fill="#2e8c6e"/>
<polygon points="1684.4,578.4 1698.6,550.2 1667.2,552" fill="#afd6c8"/><circle cx="1683.4" cy="560.2" r="7.9" fill="#29e6b0"/>
<polygon points="1657.5,586.6 1671.7,558.4 1640.3,560.2" fill="#afd6c8"/><circle cx="1656.5" cy="568.4" r="7.9" fill="#29e6b0"/>
<polygon points="1632.3,600.6 1647.5,573 1616,573.6" fill="#afd6c8"/><circle cx="1631.9" cy="582.4" r="7.9" fill="#afd6c8"/>
<polygon points="1770.1,641.7 1787.9,615.8 1756.5,613.3" fill="#29e6b0"/><circle cx="1771.5" cy="623.6" r="7.9" fill="#2e8c6e"/>
<polygon points="1711.7,656 1729.5,630.1 1698.1,627.6" fill="#afd6c8"/><circle cx="1713.1" cy="637.9" r="7.9" fill="#2e8c6e"/>
<polygon points="1684.4,661.1 1702.2,635.2 1670.8,632.7" fill="#29e6b0"/><circle cx="1685.8" cy="643" r="7.9" fill="#2e8c6e"/>
<polygon points="1657.8,671.4 1675.6,645.5 1644.2,643" fill="#afd6c8"/><circle cx="1659.2" cy="653.3" r="7.9" fill="#29e6b0"/>
</g>
<polygon points="973.4,23.8 974,25.3 991.2,42.7 1007,59.9 1022.9,71.9 1041.9,89.1 1055.8,102.3 1068.5,113.8 1081.2,125.1 1093.9,137.6 1106.6,149.3 1119.3,162 1131.9,173.6 1144.4,186.3 1152.2,194.3 1165.8,206.8 1178,217.6 1191.2,230.4 1203.9,243.8 1216.6,255.9 1229.3,267.3 1241.9,278.7 1255.8,291.5 1268.5,302.3 1281.2,314.3 1293.9,325.7 1300.2,329.5 1306.6,334 1319.3,342.2 1331.9,349.8 1344.6,356.8 1351,361.3 1354.8,365.7 1357.3,367 1363.7,367 1370,369.8 1380.6,376.6 1391.8,383 1404.4,392.5 1420.3,402 1436.2,410.8 1452,416.3 1467.9,420.3 1476,422.6 1482.9,419.5 1486.1,413.8 1484.2,410.6 1486.7,404.9 1489.9,401.4 1494.4,402.3 1501.3,407.4 1510.2,411.2 1522.9,415 1531.8,420.7 1538.8,425.8 1540,428.4 1543.9,430.3 1547,436.6 1551.7,441.8 1555.5,445.6 1555.5,453.2 1557.4,460.8 1561.2,469.7 1567.5,474.2 1575.1,479.2 1580.2,476.4 1586.6,483 1590.4,485.6 1595.4,486.2 1599.3,489.4 1601.2,493.2 1605.6,496.4 1610.7,498.9 1612.6,502.7 1612.6,507.8 1609.4,513.5 1606.2,519.8 1606.9,526.8 1608.2,534.5 1608.2,547.2 1606.9,556.1 1610.7,566.2 1616.4,578.9 1620.2,588.4 1624,599.2 1628.5,609.4 1632.9,619.8 1635.3,626.5 1640.4,638.5 1644.8,649.3 1649.3,662 1654.3,676.6 1658.8,691.2 1662.6,703.9 1664.3,710.8 1665.3,714.8 960.8,713.8 960.8,19.8" fill="#bac8bb"/>
<clipPath id="lc2"><polygon points="973.4,23.8 974,25.3 991.2,42.7 1007,59.9 1022.9,71.9 1041.9,89.1 1055.8,102.3 1068.5,113.8 1081.2,125.1 1093.9,137.6 1106.6,149.3 1119.3,162 1131.9,173.6 1144.4,186.3 1152.2,194.3 1165.8,206.8 1178,217.6 1191.2,230.4 1203.9,243.8 1216.6,255.9 1229.3,267.3 1241.9,278.7 1255.8,291.5 1268.5,302.3 1281.2,314.3 1293.9,325.7 1300.2,329.5 1306.6,334 1319.3,342.2 1331.9,349.8 1344.6,356.8 1351,361.3 1354.8,365.7 1357.3,367 1363.7,367 1370,369.8 1380.6,376.6 1391.8,383 1404.4,392.5 1420.3,402 1436.2,410.8 1452,416.3 1467.9,420.3 1476,422.6 1482.9,419.5 1486.1,413.8 1484.2,410.6 1486.7,404.9 1489.9,401.4 1494.4,402.3 1501.3,407.4 1510.2,411.2 1522.9,415 1531.8,420.7 1538.8,425.8 1540,428.4 1543.9,430.3 1547,436.6 1551.7,441.8 1555.5,445.6 1555.5,453.2 1557.4,460.8 1561.2,469.7 1567.5,474.2 1575.1,479.2 1580.2,476.4 1586.6,483 1590.4,485.6 1595.4,486.2 1599.3,489.4 1601.2,493.2 1605.6,496.4 1610.7,498.9 1612.6,502.7 1612.6,507.8 1609.4,513.5 1606.2,519.8 1606.9,526.8 1608.2,534.5 1608.2,547.2 1606.9,556.1 1610.7,566.2 1616.4,578.9 1620.2,588.4 1624,599.2 1628.5,609.4 1632.9,619.8 1635.3,626.5 1640.4,638.5 1644.8,649.3 1649.3,662 1654.3,676.6 1658.8,691.2 1662.6,703.9 1664.3,710.8 1665.3,714.8 960.8,713.8 960.8,19.8"/></clipPath>
<g clip-path="url(#lc2)">
<g fill="none" stroke="#716f6f" stroke-width="2.8" stroke-linejoin="round" stroke-linecap="round">
<path d="M1046.1 97 L1044.5 103.3 L1042.9 105.7 L1044.5 117.6 L1046.9 133.5 L1049.3 149.3 L1050.1 162 L1047.7 171.5 L1041.4 181 L1031.8 189 L1023.9 195.3 L1019.1 201.7 L1011.2 203.3 L1008 201.7 L1001.7 193.7 L993.8 185.8 L981.1 173.1 L974.7 172.3 L965.2 168.4"/>
<path d="M1089.7 135.8 L1090.5 143.8 L1083.4 151.7 L1087.4 158.8 L1088.9 163.6 L1092.1 163.6"/>
<path d="M1100.8 189.8 L1100 193.7 L1100.8 201.7 L1096.9 208 L1093.7 217.5 L1087.4 220.7 L1076.3 220.7 L1068.3 223.9 L1060.4 222.3 L1053.2 220.7"/>
<path d="M1100.8 201.7 L1108 208 L1117.5 204 L1123.8 204 L1131.8 209.6 L1133.4 215.9 L1141.3 227.1 L1142.9 235 L1152.4 242.9 L1163.5 239.7 L1176.2 233.4 L1187.3 230.2"/>
<path d="M1187.3 232.6 L1177.8 247.7 L1179.4 248.7 L1181 258.3 L1180.2 267.8 L1171.4 274.1 L1161.9 283.6 L1155.6 290 L1149.2 293.2 L1147.6 299.5 L1136.5 304.3 L1128.6 304.3 L1125.4 309 L1119.1 309 L1112.7 305.9 L1104.8 309 L1098.5 317 L1095.3 323.3 L1088.9 326.5 L1082.6 334.4 L1076.3 337.6 L1068.3 345.5 L1060.4 351.9 L1052.5 358.2 L1044.5 363 L1035 365.4 L1030.2 370.9 L1023.9 382 L1017.6 388.4 L1014.4 399.5 L1008 405.8 L1003.3 413.7 L998.5 418.5 L995.3 428 L989 429.6 L981.1 435.9 L973.1 445.5 L965.2 453.4"/>
<path d="M1180.2 267.8 L1182.5 277.3 L1185.7 283.6 L1192.1 285.2 L1200 280.5 L1209.5 277.3 L1219 276.5 L1225.4 278.1 L1227 271 L1228.6 267.8 L1234.9 267.8"/>
<path d="M997.7 253.5 L999.3 256.7 L1006.4 256.7 L1008.8 259.9 L1009.6 269.4 L1016 277.3 L1012.8 285.2 L1008 290 L1006.4 297.9 L1003.3 302.7 L1000.1 304.3 L993.8 309 L985.8 315.4 L977.9 320.1 L971.5 326.5 L965.2 329.7"/>
<path d="M1236.5 280.5 L1238.1 286.8 L1241.2 294.8 L1247.6 302.7 L1246 307.4 L1241.2 312.2 L1238.1 318.6 L1236.5 326.5 L1231.7 331.2 L1227 337.6 L1228.6 345.5 L1227 353.5 L1222.2 359.8 L1215.9 367.7 L1212.7 372.5 L1203.2 374.1 L1193.7 374.1 L1188.9 380.4 L1184.1 385.2 L1181 393.1 L1174.6 401 L1169.9 410.6 L1165.1 413.7 L1160.3 424.8 L1155.6 434.4 L1150.8 442.3 L1147.6 448.6 L1152.4 453.4 L1161.9 453.4 L1161.9 464.5 L1158.7 475.3 L1154 483.3 L1149.2 492 L1141.3 492 L1138.9 487.2 L1135 489.6 L1130.2 499.1 L1127 505.5 L1127.8 511.8 L1122.3 515 L1115.9 518.2 L1109.6 522.9 L1104.8 519.8 L1100 515 L1093.7 513.4 L1087.4 515 L1081 516.6 L1074.7 515 L1070.7 521.3 L1069.9 527.7 L1071.5 534 L1069.1 540.4 L1069.1 548.3 L1063.6 553.1 L1057.2 559.4 L1055.6 565.8 L1050.9 572.1 L1047.7 578.5 L1041.4 581.6 L1031.8 586.4 L1023.9 592.7 L1016 600.7 L1016 607 L1011.2 613.4 L1003.3 624.5 L1003.3 630.8 L996.9 624.5 L995.3 618.1 L990.6 610.2 L985.8 608.6 L985.8 600.7 L983.4 592.7 L974.7 592.7 L965.2 598.3"/>
<path d="M1227 353.5 L1231.7 356.6 L1241.2 354.2 L1247.6 353.5 L1253.1 355 L1257.9 361.4 L1265.8 367.7 L1276.9 367.7 L1284.9 372.5 L1294.4 374.1 L1296 380.4 L1292.8 388.4 L1296 394.7 L1296 402.6 L1300.7 409 L1308.7 412.2 L1321.4 410.6 L1324.5 404.2 L1332.5 397.9 L1337.2 391.5 L1343.6 386.8 L1356.3 386.8 L1362.6 383.6 L1370.5 375.7"/>
<path d="M1378.5 378.8 L1380 383.6 L1375.3 389.9 L1378.5 394.7 L1388 396.3 L1392.7 394.7 L1395.9 401 L1403.8 404.2 L1408.6 409 L1408.6 416.9 L1413.4 423.3 L1419.7 428 L1429.2 431.2 L1435.6 437.5 L1445.1 437.5 L1456.2 435.9 L1467.3 439.1 L1468.9 445.5 L1464.1 450.2 L1457.8 453.4 L1453 461.3 L1443.5 473.7 L1440.3 480.1 L1429.2 484.1 L1418.1 488 L1413.4 496 L1403.8 499.9 L1395.9 499.1 L1395.1 505.5 L1396.7 515 L1402.3 518.2 L1400.7 527.7 L1402.3 534 L1397.5 540.4 L1392.7 542.8 L1381.6 546.7 L1372.1 542.8 L1364.2 543.6 L1357.8 549.9 L1350.7 551.5 L1348.3 559.4 L1340.4 562.6 L1334 564.2 L1327.7 564.2 L1322.9 567.3 L1313.4 563.4 L1305.5 567.3 L1299.1 568.9 L1292.8 576.9 L1281.7 579.2 L1278.5 589.6 L1273.8 594.3 L1269 594.3 L1259.5 602.2 L1249.2 603.8 L1241.2 597.5 L1227 596.7 L1225.4 600.7 L1231.7 611.8 L1227 619.7 L1225.4 629.2 L1217.4 634 L1204.8 632.4 L1195.2 637.2"/>
<path d="M1467.3 439.1 L1475.2 440.7 L1483.2 443.9 L1492.7 447.1 L1500.6 451.8 L1507 450.2 L1508.6 442.3 L1513.3 437.5 L1519.1 438.5 L1528.7 442.3 L1541.4 447.4 L1546.4 445.5 L1550.2 449.9 L1550.2 454.3 L1554 462.6 L1556 467.2 L1559.1 475.2 L1565.5 479.9 L1573.4 484.7 L1579.7 488 L1584.5 496 L1585.3 505.5 L1581.3 518.2 L1579.7 530.9 L1582.9 537.2 L1579.7 546.7 L1581.3 553.1 L1589.2 561 L1595.6 568.9 L1600.3 578.5 L1608.3 584.8 L1616.2 589.6 L1619.4 592.7"/>
<path d="M1470.9 437.8 L1468.4 442.3 L1467.7 447.4 L1465.2 449.3"/>
<path d="M1465.2 439.1 L1470.9 437.8 L1481.1 444.8 L1495.7 449.3 L1498.8 452.4 L1508.4 452.4 L1509 449.3 L1505.8 446.7 L1510.9 437.8 L1519.1 438.5"/>
<path d="M1354.7 711.7 L1372.1 707 L1383.2 697.4 L1392.7 692.7 L1397.5 683.2 L1410.2 680 L1422.9 676.8 L1437.2 670.5 L1443.5 676.8 L1453 677.6 L1457.8 681.6 L1467.3 686.3 L1473.7 691.1 L1480 693.5 L1489.5 691.1 L1499 687.9 L1508.6 684.7 L1514.9 680"/>
<path d="M1582.9 649.9 L1587.1 643 L1591.5 638.5 L1607.4 636 L1618.2 638.5 L1625.8 633.4 L1636 631.5"/>
<path d="M1144.5 700.6 L1142.9 705.4 L1135 710.9"/>
</g>
<g fill="none" stroke="#1cc0f4" stroke-width="4" stroke-linejoin="round" stroke-linecap="butt">
<path d="M1085.7 122.8 L1082.6 127.9 L1076.3 138.2 L1066.7 154.1 L1057.2 168.4 L1054.8 181 L1050.9 184.2 L1039.8 187.4 L1031.8 193.7 L1023.9 201.7 L1019.1 204.8 L1014.4 204.8"/>
<path d="M975.5 215.2 L970 219.1 L967.6 227.1 L965.2 231.8"/>
<path d="M1014.4 204.8 L1003.3 208 L990.6 212 L975.5 215.2"/>
<path d="M1195.2 230.2 L1189.7 232.6 L1184.1 235 L1177.8 243.7 L1174.6 246.9 L1161.9 244.5 L1157.2 253.2 L1136.5 261.4 L1123.8 280.5 L1106.4 286 L1095.3 297.9 L1092.1 305.9 L1063.6 327.3 L1047.7 327.3 L1039.8 340.8 L1030.2 351.1 L1028.7 355 L1012.8 351.1 L1015.2 359.8 L1011.2 377.2 L1006.4 391.5 L996.9 407.4 L989 418.5 L984.2 418.5 L981.1 423.3 L968.4 429.6 L963.6 433.6"/>
<path d="M1237.1 270.9 L1234.9 276.5 L1233.3 280.5 L1228.6 286.8 L1223.8 285.2 L1212.7 302.7 L1204.8 305.1 L1203.2 310.6 L1206.3 318.6 L1198.4 320.1 L1192.1 332.8 L1184.1 340.8 L1176.2 351.9 L1165.1 364.6 L1161.9 374.1 L1155.6 375.7 L1150.8 382 L1139.7 402.6 L1136.5 412.2 L1131.8 415.3 L1127 424.8 L1117.5 437.5 L1112.7 439.1 L1096.9 458.2 L1090.5 455.8 L1074.7 467.7 L1066.7 470.9 L1055.6 471.6 L1052.5 480.4 L1046.1 481.2 L1049.3 492.8 L1044.5 499.1 L1041.4 507.1 L1038.2 516.6"/>
<path d="M1379.2 372 L1375.3 376.5 L1370.5 382 L1364.2 389.9 L1356.3 394.7 L1348.3 407.4 L1340.4 416.9 L1336.4 421.7 L1336.4 440.7 L1335.6 464.5 L1324.5 480.1 L1308.7 494.4 L1300.7 507.1 L1296 511.8 L1294.4 521.3 L1288 527.7 L1278.5 530.9 L1269 537.2 L1257.9 543.6 L1250 547.5 L1234.9 555.4 L1211.1 561.8 L1195.2 563.4 L1177.8 561 L1161.9 563.4 L1156.4 558.6 L1147.6 560.2 L1127 562.6 L1111.2 568.9 L1110.4 578.5 L1104.8 580.8 L1093.7 584.8 L1090.5 595.9 L1082.6 594.3 L1076.3 599.1 L1066.7 610.2 L1057.2 616.5 L1050.9 621.3 L1047.7 627.6 L1039.8 630.8 L1038.2 635.6 L1035 637.9"/>
<path d="M1228.6 662.5 L1228.6 656.2 L1233.3 654.6 L1234.9 648.3 L1242.8 649 L1245.2 648.3 L1251.5 645.1 L1253.1 639.5 L1260.3 637.9 L1259.5 630.8 L1264.2 624.5 L1272.2 619.7 L1280.9 610.2 L1292.8 608.6 L1304.7 611.8 L1307.1 608.6 L1321.4 604.6 L1337.2 599.9 L1349.1 591.9 L1366.6 588.8 L1392.7 592.7 L1409.4 593.5 L1424.5 603.8 L1451.4 605.4 L1462.5 611 L1470.5 620.5 L1485.5 632.4 L1513.3 639.5 L1530.8 645.9 L1540.3 649 L1570.2 646.7 L1575 640.3 L1581.3 626 L1587.7 611.8 L1601.9 605.4 L1609.9 602.2 L1621 597.5 L1626.5 595.2"/>
<path d="M1653.7 661.4 L1648 663.3 L1633.4 668.3 L1630.9 674.7 L1626.4 682.9 L1610.6 690.5 L1606.8 696.3 L1597.9 703.2 L1593.2 712.4"/>
<path d="M964.4 674.4 L970 676.8 L976.3 678.4"/>
<path d="M999.3 700.3 L1001.7 705.4 L1004.1 711.7"/>
<path d="M1184.9 700.3 L1174.6 705.4 L1166.7 711.7"/>
</g></g>
<path d="M973.4 23.8 L974 25.3 L991.2 42.7 L1007 59.9 L1022.9 71.9 L1041.9 89.1 L1055.8 102.3 L1068.5 113.8 L1081.2 125.1 L1093.9 137.6 L1106.6 149.3 L1119.3 162 L1131.9 173.6 L1144.4 186.3 L1152.2 194.3 L1165.8 206.8 L1178 217.6 L1191.2 230.4 L1203.9 243.8 L1216.6 255.9 L1229.3 267.3 L1241.9 278.7 L1255.8 291.5 L1268.5 302.3 L1281.2 314.3 L1293.9 325.7 L1300.2 329.5 L1306.6 334 L1319.3 342.2 L1331.9 349.8 L1344.6 356.8 L1351 361.3 L1354.8 365.7 L1357.3 367 L1363.7 367 L1370 369.8 L1380.6 376.6 L1391.8 383 L1404.4 392.5 L1420.3 402 L1436.2 410.8 L1452 416.3 L1467.9 420.3 L1476 422.6 L1482.9 419.5 L1486.1 413.8 L1484.2 410.6 L1486.7 404.9 L1489.9 401.4 L1494.4 402.3 L1501.3 407.4 L1510.2 411.2 L1522.9 415 L1531.8 420.7 L1538.8 425.8 L1540 428.4 L1543.9 430.3 L1547 436.6 L1551.7 441.8 L1555.5 445.6 L1555.5 453.2 L1557.4 460.8 L1561.2 469.7 L1567.5 474.2 L1575.1 479.2 L1580.2 476.4 L1586.6 483 L1590.4 485.6 L1595.4 486.2 L1599.3 489.4 L1601.2 493.2 L1605.6 496.4 L1610.7 498.9 L1612.6 502.7 L1612.6 507.8 L1609.4 513.5 L1606.2 519.8 L1606.9 526.8 L1608.2 534.5 L1608.2 547.2 L1606.9 556.1 L1610.7 566.2 L1616.4 578.9 L1620.2 588.4 L1624 599.2 L1628.5 609.4 L1632.9 619.8 L1635.3 626.5 L1640.4 638.5 L1644.8 649.3 L1649.3 662 L1654.3 676.6 L1658.8 691.2 L1662.6 703.9 L1664.3 710.8 L1665.3 714.8" fill="none" stroke="#000" stroke-width="2.7" stroke-linejoin="round"/>
<g fill="none" stroke="#000" stroke-width="3" stroke-linejoin="round" stroke-linecap="round">
<path d="M1489.9 401.4 L1491.2 397.9 L1495.6 392.2 L1500.1 390.9 L1505.1 394.7 L1507.7 398.5 L1510.2 402.3"/>
<path d="M1491.2 397.9 L1495.6 398.5 L1498.8 402.3 L1503.9 404.9 L1509 406.1"/>
<path d="M1495.6 404.9 L1498.8 407.4 L1503.9 407.4"/>
</g>
<polygon points="1518.4,381.6 1524.5,400.4 1544.3,400.4 1528.3,412 1534.4,430.8 1518.4,419.2 1502.4,430.8 1508.5,412 1492.5,400.4 1512.3,400.4" fill="#000"/>
<text x="1544.4" y="395.9" font-size="45" fill="#1d1d1b">Ancona</text>
<text x="973.5" y="256.3" font-size="30" fill="#1d1d1b" transform="rotate(-31.5 973.5 256.3)">Metauro R.</text>
<text x="993.3" y="361.3" font-size="30" fill="#1d1d1b" transform="rotate(-41 993.3 361.3)">Cesano River</text>
<text x="1055.3" y="451.8" font-size="30" fill="#1d1d1b" transform="rotate(-45.7 1055.3 451.8)">Misa River</text>
<text x="1191.8" y="549.8" font-size="30" fill="#1d1d1b" transform="rotate(-46.3 1191.8 549.8)">Esino River</text>
<text x="1386.8" y="584.8" font-size="30" fill="#1d1d1b" transform="rotate(-19.4 1386.8 584.8)">Musone River</text>
<text x="1526.8" y="704.3" font-size="30" fill="#1d1d1b" transform="rotate(-27 1526.8 704.3)">Potenza</text>
<text x="1039.9" y="84.1" font-size="22.3" fill="#1d1d1b">01</text>
<text x="1058.1" y="64.2" font-size="22.3" fill="#1d1d1b">02</text>
<text x="1083.5" y="43.6" font-size="22.3" fill="#1d1d1b">03</text>
<text x="1139.8" y="70.6" font-size="22.3" fill="#1d1d1b">04</text>
<text x="1130.3" y="125.3" font-size="22.3" fill="#1d1d1b">05</text>
<text x="1111.3" y="149.9" font-size="22.3" fill="#1d1d1b">06</text>
<text x="1148.5" y="186.4" font-size="22.3" fill="#1d1d1b">07</text>
<text x="1168.4" y="165" font-size="22.3" fill="#1d1d1b">08</text>
<text x="1173.1" y="110.2" font-size="22.3" fill="#1d1d1b">09</text>
<text x="1242.9" y="170.5" font-size="22.3" fill="#1d1d1b">10</text>
<text x="1225.1" y="215" font-size="22.3" fill="#1d1d1b">11</text>
<text x="1209.6" y="241.1" font-size="22.3" fill="#1d1d1b">12</text>
<text x="1246.8" y="281.3" font-size="22.3" fill="#1d1d1b">13</text>
<text x="1265.9" y="257.3" font-size="22.3" fill="#1d1d1b">14</text>
<text x="1288.1" y="230" font-size="22.3" fill="#1d1d1b">15</text>
<text x="1346" y="172.1" font-size="22.3" fill="#1d1d1b">16</text>
<text x="1338.1" y="273.1" font-size="22.3" fill="#1d1d1b">17</text>
<text x="1310.3" y="294.5" font-size="22.3" fill="#1d1d1b">18</text>
<text x="1288.9" y="314.4" font-size="22.3" fill="#1d1d1b">19</text>
<text x="1395.2" y="381" font-size="22.3" fill="#1d1d1b">20</text>
<text x="1366.7" y="336.6" font-size="22.3" fill="#1d1d1b">21</text>
<text x="1433.3" y="336.6" font-size="22.3" fill="#1d1d1b">22</text>
<text x="1423" y="279.5" font-size="22.3" fill="#1d1d1b">23</text>
<text x="1642.5" y="634.6" font-size="22.3" fill="#1d1d1b">24</text>
<text x="1671.8" y="626.6" font-size="22.3" fill="#1d1d1b">25</text>
<text x="1710.7" y="624.3" font-size="22.3" fill="#1d1d1b">26</text>
<text x="1774.2" y="607.6" font-size="22.3" fill="#1d1d1b">27</text>
<text x="1745.6" y="520.3" font-size="22.3" fill="#1d1d1b">28</text>
<text x="1674.2" y="544.9" font-size="22.3" fill="#1d1d1b">29</text>
<text x="1641.7" y="553.6" font-size="22.3" fill="#1d1d1b">30</text>
<text x="1613.9" y="567.1" font-size="22.3" fill="#1d1d1b">31</text>
<text x="998.1" y="668.6" font-size="25.5" fill="#1d1d1b" text-anchor="middle">0</text>
<text x="1083" y="668.6" font-size="25.5" fill="#1d1d1b" text-anchor="middle">7,5</text>
<text x="1173.1" y="668.6" font-size="25.5" fill="#1d1d1b" text-anchor="middle">15</text>
<rect x="994.6" y="675.9" width="178.4" height="18.6" fill="#000"/>
<rect x="996.8" y="678.1" width="85" height="14.2" fill="#bdcbbe"/>
<text x="1184.5" y="692.6" font-size="25" fill="#1d1d1b">km</text>
<rect x="1394.2" y="24" width="475.2" height="169.4" fill="#fefefe" stroke="#222" stroke-width="1.5"/>
<circle cx="1429.3" cy="72.7" r="10.6" fill="none" stroke="#111" stroke-width="1.6"/>
<polygon points="1429.9,126.6 1408.3,163.7 1451.8,163.7" fill="none" stroke="#222" stroke-width="1.3"/>
<text x="1459" y="64.9" font-size="24.7" fill="#1d1d1b">2022 flood</text>
<text x="1459" y="92" font-size="24.7" fill="#1d1d1b">sediments</text>
<text x="1460.6" y="137" font-size="24.7" fill="#1d1d1b">sediments underlying</text>
<text x="1460.6" y="165" font-size="24.7" fill="#1d1d1b">the flood event</text>
<text x="1721.3" y="57.9" font-size="27.6" fill="#1d1d1b">Mud (%)</text>
<rect x="1722" y="79.7" width="41" height="26.5" fill="#2e8c6e"/>
<rect x="1722" y="111.5" width="41" height="26.7" fill="#29e6b0"/>
<rect x="1722" y="142.8" width="41" height="26.5" fill="#afd6c8"/>
<text x="1774" y="100.9" font-size="27.5" fill="#1d1d1b">71-95</text>
<text x="1774" y="132.2" font-size="27.5" fill="#1d1d1b">31-70</text>
<text x="1774" y="165" font-size="27.5" fill="#1d1d1b">0-30</text>
</g>
<rect x="967.4" y="24" width="902" height="685.8" fill="none" stroke="#111" stroke-width="2.3"/>
<g clip-path="url(#cp3)">
<rect x="20.2" y="745.8" width="900.9" height="683.8" fill="url(#sea3)"/>
<g fill="none" stroke="#189fe2" stroke-width="1.4" stroke-dasharray="5 2.6">
<path d="M48.2 744 L59.3 756.7 L68.8 763 L74.3 770.2 L83.1 778.9 L91 784 L102.1 794.8 L108.4 801.9 L116.4 807.4 L130.7 820.1 L143.3 831.2 L154.4 838.4 L165.6 847.9 L171.9 856.6 L184.6 869.3 L194.1 877.2 L203.6 886 L217.9 899.5 L230.6 910.6 L240.1 917.7 L244.9 926.4 L257.6 939.1 L273.4 953.4 L289.3 967.7 L298.8 975.6 L315.5 989.4 L331.3 1002.1 L347.2 1011.6 L363.1 1024.3 L369.4 1033.8 L382.1 1043.3 L394.8 1050.4 L410.7 1060.8 L426.5 1070.3 L436 1076.6 L450.3 1083 L466.2 1090.9 L477.3 1096.5 L490 1100.4 L505.8 1108.4 L521.7 1114.7 L534.4 1119.5 L542.3 1118.7"/>
<path d="M613.5 1174.6 L616.7 1184.1 L623.1 1190.4 L631 1196.8 L642.1 1203.1 L650 1209.5 L661.1 1215.8 L658.7 1228.6 L661.1 1239.8 L665.8 1246.1 L667.4 1258.8 L672.2 1269.9 L677 1284.2 L683.3 1295.3 L694.4 1312.7 L699.2 1325.4 L702.3 1338.1 L705.5 1354 L711.9 1361.9 L715 1366.7 L718.2 1377.8"/>
<path d="M225 744 L241.7 759.9 L257.6 775.7 L273.4 788.4 L289.3 801.1 L299.6 810.6 L315.5 824.9 L331.3 837.6 L347.2 851.9 L363.1 866.1 L378.9 882 L394.8 894.7 L410.7 909 L426.5 921.7 L442.4 934.4 L458.2 947.1 L474.1 959.7 L490 971.9 L505.8 984.6 L521.7 998.9 L537.6 1010 L553.4 1022.7 L569.3 1033.8 L585.2 1046.5 L591.3 1052.4 L607.2 1065.1 L623.1 1077.8 L638.9 1090.5 L654.8 1100 L670.7 1107.9 L686.5 1119 L702.4 1130.1 L711.9 1134.9 L718.2 1141.2 L726.2 1150.8 L734.1 1161.9 L742 1173 L750 1179.3 L757.9 1184.1 L762.7 1190.4 L765.8 1198.4 L769 1204.7 L776.9 1211 L783.3 1217.4 L788.1 1226.9 L791.2 1234.8 L796 1242.8 L799.1 1250.9 L807 1260.4 L815 1271.5 L822.9 1282.6 L827.7 1292.1 L832.4 1303.2 L837.2 1314.3 L843.5 1323.8 L848.3 1333.4 L853.1 1346 L857.8 1358.7 L861 1369.8 L864.2 1377.8 L868.9 1387.3 L875.3 1398.4 L880 1409.5 L883.2 1420.6 L886 1432.5"/>
<path d="M309.9 744 L323.4 756.7 L331.3 764.6 L347.2 777.3 L363.1 790 L378.9 802.7 L388.4 812.2 L394.8 820.1 L401.1 826.5 L410.7 834.4 L426.5 845.5 L442.4 859.8 L510.6 916.1 L521.7 924.8 L537.6 937.5 L553.4 948.6 L569.3 961.3 L585.2 974 L599.6 985.1 L624.6 1003.9 L640.5 1018.2 L656.3 1032.5 L672.2 1043.6 L688.1 1056.3 L700.8 1069 L713.4 1080.1 L726.1 1091.2 L738.8 1100.7 L751.5 1110.2 L761 1119.7 L770.6 1129.3 L783.2 1142 L781.7 1144.4 L794.4 1155.5 L805.5 1166.6 L813.4 1177.7 L818.1 1187.4 L826.1 1196.9 L835.6 1212.8 L846.7 1228.6 L854.6 1239.8 L862.6 1252.4 L868.9 1262"/>
<path d="M900.6 1323.8 L903.8 1333.4 L908.6 1346 L913.3 1361.9 L918.1 1377.8 L922.1 1388.9"/>
<path d="M366.2 744 L378.9 756.7 L394.8 769.4 L410.7 782.1 L426.5 793.2 L431.3 801.1 L437.6 807.4 L445.6 815.4 L553.4 916.1 L569.3 926.4 L585.2 937.5 L599.6 947.1 L624.6 967.4 L640.5 983.3 L656.3 997.6 L672.2 1008.7 L688.1 1019.8 L703.9 1032.5 L719.8 1046.8 L735.7 1061 L751.5 1073.7 L764.2 1084.8 L775.3 1095.9 L791.2 1108.6 L799.1 1116.6 L807 1126.1 L815 1137.2 L829.3 1150.8 L845.2 1171.4 L853.1 1182.5 L859.6 1192 L862.6 1196.9 L878.4 1217.5 L894.3 1239.8 L907 1262 L914.9 1279.4 L922.1 1298.5"/>
<path d="M611.9 911.9 L624.6 923 L640.5 937.3 L653.2 951.6 L664.3 959.5 L680.1 973.8 L691.2 986.5 L699.2 994.4 L710.3 999.2 L719.8 1007.1 L735.7 1023 L751.5 1038.8 L767.4 1049.9 L783.2 1061 L799.1 1073.7 L815 1088 L830.8 1103.9 L837.2 1113.4 L846.7 1124.5 L854.6 1134 L862.6 1143.5 L867.3 1147.3 L874.6 1156.4 L883.2 1166.4"/>
<path d="M911.7 1214.4 L922.1 1230.2"/>
<path d="M684.9 913.5 L696 924.6 L703.9 934.1 L715 941.3 L727.7 953.2 L735.7 959.5 L751.5 970.6 L767.4 983.3 L775.3 991.2 L783.2 1000.8 L799.1 1016.6 L815 1030.9 L830.8 1046.8 L838.8 1053.1 L846.7 1062.6 L862.6 1076.9 L878.4 1088 L886.4 1099.1 L902.2 1113.4 L910.2 1124.5 L922.1 1138.8"/>
<path d="M785.6 913.5 L799.1 924.6 L808.6 934.1 L815 943.6 L821.3 954.8 L832.4 959.5 L841.9 969 L848.3 980.1 L854.6 992.8 L862.6 1007.1 L872.1 1019.8 L884.8 1029.3 L894.3 1033.3 L903.8 1040.4 L913.3 1051.5 L922.1 1062.6"/>
</g>
<text x="734.3" y="1406.5" font-size="34" fill="#189fe2" text-anchor="middle" transform="rotate(78 734.3 1406.5)" dominant-baseline="central">-10</text>
<text x="881.6" y="1290.8" font-size="35" fill="#189fe2" text-anchor="middle" transform="rotate(63 881.6 1290.8)" dominant-baseline="central">-30</text>
<text x="900.5" y="1192" font-size="35" fill="#189fe2" text-anchor="middle" transform="rotate(60 900.5 1192)" dominant-baseline="central">-50</text>
<g stroke="#1a1a1a" stroke-width="1.6" stroke-linejoin="miter">
<polygon points="165.6,796 168.3,764.6 139.8,777.9" fill="#a79bce"/><circle cx="157.9" cy="779.5" r="7.9" fill="#009846"/>
<polygon points="146.1,816.6 148.8,785.2 120.3,798.5" fill="#a79bce"/><circle cx="138.4" cy="800.1" r="7.9" fill="#a79bce"/>
<polygon points="129.5,836.3 132.2,804.9 103.7,818.2" fill="#a79bce"/><circle cx="121.8" cy="819.8" r="7.9" fill="#a79bce"/>
<polygon points="206.9,826.1 209.6,794.7 181.1,808" fill="#009846"/><circle cx="199.2" cy="809.6" r="7.9" fill="#009846"/>
<polygon points="184.7,845.2 187.4,813.8 158.9,827.1" fill="#e31e24"/><circle cx="177" cy="828.7" r="7.9" fill="#009846"/>
<polygon points="161.5,866.8 168.8,836.1 138.6,845.1" fill="#a79bce"/><circle cx="156.3" cy="849.3" r="7.9" fill="#a79bce"/>
<polygon points="241.8,867.4 244.5,836 216,849.3" fill="#009846"/><circle cx="234.1" cy="850.9" r="7.9" fill="#009846"/>
<polygon points="219.4,884.3 222.1,852.9 193.6,866.2" fill="#009846"/><circle cx="211.7" cy="867.8" r="7.9" fill="#009846"/>
<polygon points="200.5,905.8 203.2,874.4 174.7,887.7" fill="#a79bce"/><circle cx="192.8" cy="889.3" r="7.9" fill="#a79bce"/>
<polygon points="292.9,913.7 295.6,882.3 267.1,895.6" fill="#009846"/><circle cx="285.2" cy="897.2" r="7.9" fill="#e31e24"/>
<polygon points="275.4,934.3 278.1,902.9 249.6,916.2" fill="#a79bce"/><circle cx="267.7" cy="917.8" r="7.9" fill="#a79bce"/>
<polygon points="257.2,957 259.9,925.6 231.4,938.9" fill="#a79bce"/><circle cx="249.5" cy="940.5" r="7.9" fill="#a79bce"/>
<polygon points="336.7,958 339.4,926.6 310.9,939.9" fill="#e31e24"/><circle cx="329" cy="941.5" r="7.9" fill="#e31e24"/>
<polygon points="318.5,979.8 321.2,948.4 292.7,961.7" fill="#009846"/><circle cx="310.8" cy="963.3" r="7.9" fill="#009846"/>
<polygon points="302.5,998.6 305.2,967.2 276.7,980.5" fill="#a79bce"/><circle cx="294.8" cy="982.1" r="7.9" fill="#a79bce"/>
<polygon points="412.9,874.3 415.6,842.9 387.1,856.2" fill="#009846"/><circle cx="405.2" cy="857.8" r="7.9" fill="#a79bce"/>
<polygon points="422.5,1024.2 425.2,992.8 396.7,1006.1" fill="#a79bce"/><circle cx="414.8" cy="1007.7" r="7.9" fill="#e31e24"/>
<polygon points="402,1042.9 404.7,1011.5 376.2,1024.8" fill="#e31e24"/><circle cx="394.3" cy="1026.4" r="7.9" fill="#a79bce"/>
<polygon points="384.5,1066.3 387.2,1034.9 358.7,1048.2" fill="#a79bce"/><circle cx="376.8" cy="1049.8" r="7.9" fill="#a79bce"/>
<polygon points="479.7,1060.4 482.4,1029 453.9,1042.3" fill="#009846"/><circle cx="472" cy="1043.9" r="7.9" fill="#e31e24"/>
<polygon points="460.5,1081 463.2,1049.6 434.7,1062.9" fill="#009846"/><circle cx="452.8" cy="1064.5" r="7.9" fill="#009846"/>
<polygon points="445.9,1104.8 448.6,1073.4 420.1,1086.7" fill="#a79bce"/><circle cx="438.2" cy="1088.3" r="7.9" fill="#a79bce"/>
<polygon points="521,1023 523.7,991.6 495.2,1004.9" fill="#009846"/><circle cx="513.3" cy="1006.5" r="7.9" fill="#009846"/>
<polygon points="785.9,1273.9 801.7,1246.6 770.1,1246.6" fill="#009846"/><circle cx="785.9" cy="1255.7" r="7.9" fill="#009846"/>
<polygon points="740.4,1302.2 754.6,1274 723.2,1275.8" fill="#009846"/><circle cx="739.4" cy="1284" r="7.9" fill="#009846"/>
<polygon points="713.5,1310.4 727.7,1282.2 696.3,1284" fill="#a79bce"/><circle cx="712.5" cy="1292.2" r="7.9" fill="#009846"/>
<polygon points="688.3,1324.4 703.5,1296.8 672,1297.4" fill="#a79bce"/><circle cx="687.9" cy="1306.2" r="7.9" fill="#a79bce"/>
<polygon points="826.1,1365.5 843.9,1339.6 812.5,1337.1" fill="#009846"/><circle cx="827.5" cy="1347.4" r="7.9" fill="#a79bce"/>
<polygon points="767.7,1379.8 785.5,1353.9 754.1,1351.4" fill="#a79bce"/><circle cx="769.1" cy="1361.7" r="7.9" fill="#a79bce"/>
<polygon points="740.4,1384.9 758.2,1359 726.8,1356.5" fill="#a79bce"/><circle cx="741.8" cy="1366.8" r="7.9" fill="#009846"/>
<polygon points="713.8,1395.2 731.6,1369.3 700.2,1366.8" fill="#009846"/><circle cx="715.2" cy="1377.1" r="7.9" fill="#a79bce"/>
</g>
<polygon points="27.2,744.4 27.8,745.9 45,763.3 60.8,780.5 76.7,792.5 95.7,809.7 109.6,822.9 122.3,834.4 135,845.7 147.7,858.2 160.4,869.9 173.1,882.6 185.7,894.2 198.2,906.9 206,914.9 219.6,927.4 231.8,938.2 245,951 257.7,964.4 270.4,976.5 283.1,987.9 295.7,999.3 309.6,1012.1 322.3,1022.9 335,1034.9 347.7,1046.3 354,1050.1 360.4,1054.6 373.1,1062.8 385.7,1070.4 398.4,1077.4 404.8,1081.9 408.6,1086.3 411.1,1087.6 417.5,1087.6 423.8,1090.4 434.4,1097.2 445.6,1103.6 458.2,1113.1 474.1,1122.6 490,1131.4 505.8,1136.9 521.7,1140.9 529.8,1143.2 536.7,1140.1 539.9,1134.4 538,1131.2 540.5,1125.5 543.7,1122 548.2,1122.9 555.1,1128 564,1131.8 576.7,1135.6 585.6,1141.3 592.6,1146.4 593.8,1149 597.7,1150.9 600.8,1157.2 605.5,1162.4 609.3,1166.2 609.3,1173.8 611.2,1181.4 615,1190.3 621.3,1194.8 628.9,1199.8 634,1197 640.4,1203.6 644.2,1206.2 649.2,1206.8 653.1,1210 655,1213.8 659.4,1217 664.5,1219.5 666.4,1223.3 666.4,1228.4 663.2,1234.1 660,1240.4 660.7,1247.4 662,1255.1 662,1267.8 660.7,1276.7 664.5,1286.8 670.2,1299.5 674,1309 677.8,1319.8 682.3,1330 686.7,1340.4 689.1,1347.1 694.2,1359.1 698.6,1369.9 703.1,1382.6 708.1,1397.2 712.6,1411.8 716.4,1424.5 718.1,1431.4 719.1,1435.4 14.6,1434.4 14.6,740.4" fill="#bac8bb"/>
<clipPath id="lc3"><polygon points="27.2,744.4 27.8,745.9 45,763.3 60.8,780.5 76.7,792.5 95.7,809.7 109.6,822.9 122.3,834.4 135,845.7 147.7,858.2 160.4,869.9 173.1,882.6 185.7,894.2 198.2,906.9 206,914.9 219.6,927.4 231.8,938.2 245,951 257.7,964.4 270.4,976.5 283.1,987.9 295.7,999.3 309.6,1012.1 322.3,1022.9 335,1034.9 347.7,1046.3 354,1050.1 360.4,1054.6 373.1,1062.8 385.7,1070.4 398.4,1077.4 404.8,1081.9 408.6,1086.3 411.1,1087.6 417.5,1087.6 423.8,1090.4 434.4,1097.2 445.6,1103.6 458.2,1113.1 474.1,1122.6 490,1131.4 505.8,1136.9 521.7,1140.9 529.8,1143.2 536.7,1140.1 539.9,1134.4 538,1131.2 540.5,1125.5 543.7,1122 548.2,1122.9 555.1,1128 564,1131.8 576.7,1135.6 585.6,1141.3 592.6,1146.4 593.8,1149 597.7,1150.9 600.8,1157.2 605.5,1162.4 609.3,1166.2 609.3,1173.8 611.2,1181.4 615,1190.3 621.3,1194.8 628.9,1199.8 634,1197 640.4,1203.6 644.2,1206.2 649.2,1206.8 653.1,1210 655,1213.8 659.4,1217 664.5,1219.5 666.4,1223.3 666.4,1228.4 663.2,1234.1 660,1240.4 660.7,1247.4 662,1255.1 662,1267.8 660.7,1276.7 664.5,1286.8 670.2,1299.5 674,1309 677.8,1319.8 682.3,1330 686.7,1340.4 689.1,1347.1 694.2,1359.1 698.6,1369.9 703.1,1382.6 708.1,1397.2 712.6,1411.8 716.4,1424.5 718.1,1431.4 719.1,1435.4 14.6,1434.4 14.6,740.4"/></clipPath>
<g clip-path="url(#lc3)">
<g fill="none" stroke="#716f6f" stroke-width="2.8" stroke-linejoin="round" stroke-linecap="round">
<path d="M100.9 816.9 L99.3 823.2 L97.7 825.6 L99.3 837.5 L101.7 853.4 L104.1 869.2 L104.9 881.9 L102.5 891.4 L96.2 900.9 L86.6 908.9 L78.7 915.2 L73.9 921.6 L66 923.2 L62.8 921.6 L56.5 913.6 L48.6 905.7 L35.9 893 L29.5 892.2 L20 888.3"/>
<path d="M144.5 855.7 L145.3 863.7 L138.2 871.6 L142.2 878.7 L143.7 883.5 L146.9 883.5"/>
<path d="M155.6 909.7 L154.8 913.6 L155.6 921.6 L151.7 927.9 L148.5 937.4 L142.2 940.6 L131.1 940.6 L123.1 943.8 L115.2 942.2 L108 940.6"/>
<path d="M155.6 921.6 L162.8 927.9 L172.3 923.9 L178.6 923.9 L186.6 929.5 L188.2 935.8 L196.1 947 L197.7 954.9 L207.2 962.8 L218.3 959.6 L231 953.3 L242.1 950.1"/>
<path d="M242.1 952.5 L232.6 967.6 L234.2 968.6 L235.8 978.2 L235 987.7 L226.2 994 L216.7 1003.5 L210.4 1009.9 L204 1013.1 L202.4 1019.4 L191.3 1024.2 L183.4 1024.2 L180.2 1028.9 L173.9 1028.9 L167.5 1025.8 L159.6 1028.9 L153.3 1036.9 L150.1 1043.2 L143.7 1046.4 L137.4 1054.3 L131.1 1057.5 L123.1 1065.4 L115.2 1071.8 L107.3 1078.1 L99.3 1082.9 L89.8 1085.3 L85 1090.8 L78.7 1101.9 L72.4 1108.3 L69.2 1119.4 L62.8 1125.7 L58.1 1133.6 L53.3 1138.4 L50.1 1147.9 L43.8 1149.5 L35.9 1155.8 L27.9 1165.4 L20 1173.3"/>
<path d="M235 987.7 L237.3 997.2 L240.5 1003.5 L246.9 1005.1 L254.8 1000.4 L264.3 997.2 L273.8 996.4 L280.2 998 L281.8 990.9 L283.4 987.7 L289.7 987.7"/>
<path d="M52.5 973.4 L54.1 976.6 L61.2 976.6 L63.6 979.8 L64.4 989.3 L70.8 997.2 L67.6 1005.1 L62.8 1009.9 L61.2 1017.8 L58.1 1022.6 L54.9 1024.2 L48.6 1028.9 L40.6 1035.3 L32.7 1040 L26.3 1046.4 L20 1049.6"/>
<path d="M291.3 1000.4 L292.9 1006.7 L296 1014.7 L302.4 1022.6 L300.8 1027.3 L296 1032.1 L292.9 1038.5 L291.3 1046.4 L286.5 1051.1 L281.8 1057.5 L283.4 1065.4 L281.8 1073.4 L277 1079.7 L270.7 1087.6 L267.5 1092.4 L258 1094 L248.5 1094 L243.7 1100.3 L238.9 1105.1 L235.8 1113 L229.4 1120.9 L224.7 1130.5 L219.9 1133.6 L215.1 1144.7 L210.4 1154.3 L205.6 1162.2 L202.4 1168.5 L207.2 1173.3 L216.7 1173.3 L216.7 1184.4 L213.5 1195.2 L208.8 1203.2 L204 1211.9 L196.1 1211.9 L193.7 1207.1 L189.8 1209.5 L185 1219 L181.8 1225.4 L182.6 1231.7 L177.1 1234.9 L170.7 1238.1 L164.4 1242.8 L159.6 1239.7 L154.8 1234.9 L148.5 1233.3 L142.2 1234.9 L135.8 1236.5 L129.5 1234.9 L125.5 1241.2 L124.7 1247.6 L126.3 1253.9 L123.9 1260.3 L123.9 1268.2 L118.4 1273 L112 1279.3 L110.4 1285.7 L105.7 1292 L102.5 1298.4 L96.2 1301.5 L86.6 1306.3 L78.7 1312.6 L70.8 1320.6 L70.8 1326.9 L66 1333.3 L58.1 1344.4 L58.1 1350.7 L51.7 1344.4 L50.1 1338 L45.4 1330.1 L40.6 1328.5 L40.6 1320.6 L38.2 1312.6 L29.5 1312.6 L20 1318.2"/>
<path d="M281.8 1073.4 L286.5 1076.5 L296 1074.1 L302.4 1073.4 L307.9 1074.9 L312.7 1081.3 L320.6 1087.6 L331.7 1087.6 L339.7 1092.4 L349.2 1094 L350.8 1100.3 L347.6 1108.3 L350.8 1114.6 L350.8 1122.5 L355.5 1128.9 L363.5 1132.1 L376.2 1130.5 L379.3 1124.1 L387.3 1117.8 L392 1111.4 L398.4 1106.7 L411.1 1106.7 L417.4 1103.5 L425.3 1095.6"/>
<path d="M433.3 1098.7 L434.8 1103.5 L430.1 1109.8 L433.3 1114.6 L442.8 1116.2 L447.5 1114.6 L450.7 1120.9 L458.6 1124.1 L463.4 1128.9 L463.4 1136.8 L468.2 1143.2 L474.5 1147.9 L484 1151.1 L490.4 1157.4 L499.9 1157.4 L511 1155.8 L522.1 1159 L523.7 1165.4 L518.9 1170.1 L512.6 1173.3 L507.8 1181.2 L498.3 1193.6 L495.1 1200 L484 1204 L472.9 1207.9 L468.2 1215.9 L458.6 1219.8 L450.7 1219 L449.9 1225.4 L451.5 1234.9 L457.1 1238.1 L455.5 1247.6 L457.1 1253.9 L452.3 1260.3 L447.5 1262.7 L436.4 1266.6 L426.9 1262.7 L419 1263.5 L412.6 1269.8 L405.5 1271.4 L403.1 1279.3 L395.2 1282.5 L388.8 1284.1 L382.5 1284.1 L377.7 1287.2 L368.2 1283.3 L360.3 1287.2 L353.9 1288.8 L347.6 1296.8 L336.5 1299.1 L333.3 1309.5 L328.6 1314.2 L323.8 1314.2 L314.3 1322.1 L304 1323.7 L296 1317.4 L281.8 1316.6 L280.2 1320.6 L286.5 1331.7 L281.8 1339.6 L280.2 1349.1 L272.2 1353.9 L259.6 1352.3 L250 1357.1"/>
<path d="M522.1 1159 L530 1160.6 L538 1163.8 L547.5 1167 L555.4 1171.7 L561.8 1170.1 L563.4 1162.2 L568.1 1157.4 L573.9 1158.4 L583.5 1162.2 L596.2 1167.3 L601.2 1165.4 L605 1169.8 L605 1174.2 L608.8 1182.5 L610.8 1187.1 L613.9 1195.1 L620.3 1199.8 L628.2 1204.6 L634.5 1207.9 L639.3 1215.9 L640.1 1225.4 L636.1 1238.1 L634.5 1250.8 L637.7 1257.1 L634.5 1266.6 L636.1 1273 L644 1280.9 L650.4 1288.8 L655.1 1298.4 L663.1 1304.7 L671 1309.5 L674.2 1312.6"/>
<path d="M525.7 1157.7 L523.2 1162.2 L522.5 1167.3 L520 1169.2"/>
<path d="M520 1159 L525.7 1157.7 L535.9 1164.7 L550.5 1169.2 L553.6 1172.3 L563.2 1172.3 L563.8 1169.2 L560.6 1166.6 L565.7 1157.7 L573.9 1158.4"/>
<path d="M409.5 1431.6 L426.9 1426.9 L438 1417.3 L447.5 1412.6 L452.3 1403.1 L465 1399.9 L477.7 1396.7 L492 1390.4 L498.3 1396.7 L507.8 1397.5 L512.6 1401.5 L522.1 1406.2 L528.5 1411 L534.8 1413.4 L544.3 1411 L553.8 1407.8 L563.4 1404.6 L569.7 1399.9"/>
<path d="M637.7 1369.8 L641.9 1362.9 L646.3 1358.4 L662.2 1355.9 L673 1358.4 L680.6 1353.3 L690.8 1351.4"/>
<path d="M199.3 1420.5 L197.7 1425.3 L189.8 1430.8"/>
</g>
<g fill="none" stroke="#1cc0f4" stroke-width="4" stroke-linejoin="round" stroke-linecap="butt">
<path d="M140.5 842.7 L137.4 847.8 L131.1 858.1 L121.5 874 L112 888.3 L109.6 900.9 L105.7 904.1 L94.6 907.3 L86.6 913.6 L78.7 921.6 L73.9 924.7 L69.2 924.7"/>
<path d="M30.3 935.1 L24.8 939 L22.4 947 L20 951.7"/>
<path d="M250 950.1 L244.5 952.5 L238.9 954.9 L232.6 963.6 L229.4 966.8 L216.7 964.4 L212 973.1 L191.3 981.3 L178.6 1000.4 L161.2 1005.9 L150.1 1017.8 L146.9 1025.8 L118.4 1047.2 L102.5 1047.2 L94.6 1060.7 L85 1071 L83.5 1074.9 L67.6 1071 L70 1079.7 L66 1097.1 L61.2 1111.4 L51.7 1127.3 L43.8 1138.4 L39 1138.4 L35.9 1143.2 L23.2 1149.5 L18.4 1153.5"/>
<path d="M291.9 990.8 L289.7 996.4 L288.1 1000.4 L283.4 1006.7 L278.6 1005.1 L267.5 1022.6 L259.6 1025 L258 1030.5 L261.1 1038.5 L253.2 1040 L246.9 1052.7 L238.9 1060.7 L231 1071.8 L219.9 1084.5 L216.7 1094 L210.4 1095.6 L205.6 1101.9 L194.5 1122.5 L191.3 1132.1 L186.6 1135.2 L181.8 1144.7 L172.3 1157.4 L167.5 1159 L151.7 1178.1 L145.3 1175.7 L129.5 1187.6 L121.5 1190.8 L110.4 1191.5 L107.3 1200.3 L100.9 1201.1 L104.1 1212.7 L99.3 1219 L96.2 1227 L93 1236.5"/>
<path d="M434 1091.9 L430.1 1096.4 L425.3 1101.9 L419 1109.8 L411.1 1114.6 L403.1 1127.3 L395.2 1136.8 L391.2 1141.6 L391.2 1160.6 L390.4 1184.4 L379.3 1200 L363.5 1214.3 L355.5 1227 L350.8 1231.7 L349.2 1241.2 L342.8 1247.6 L333.3 1250.8 L323.8 1257.1 L312.7 1263.5 L304.8 1267.4 L289.7 1275.3 L265.9 1281.7 L250 1283.3 L232.6 1280.9 L216.7 1283.3 L211.2 1278.5 L202.4 1280.1 L181.8 1282.5 L166 1288.8 L165.2 1298.4 L159.6 1300.7 L148.5 1304.7 L145.3 1315.8 L137.4 1314.2 L131.1 1319 L121.5 1330.1 L112 1336.4 L105.7 1341.2 L102.5 1347.5 L94.6 1350.7 L93 1355.5 L89.8 1357.8"/>
<path d="M283.4 1382.4 L283.4 1376.1 L288.1 1374.5 L289.7 1368.2 L297.6 1368.9 L300 1368.2 L306.3 1365 L307.9 1359.4 L315.1 1357.8 L314.3 1350.7 L319 1344.4 L327 1339.6 L335.7 1330.1 L347.6 1328.5 L359.5 1331.7 L361.9 1328.5 L376.2 1324.5 L392 1319.8 L403.9 1311.8 L421.4 1308.7 L447.5 1312.6 L464.2 1313.4 L479.3 1323.7 L506.2 1325.3 L517.3 1330.9 L525.3 1340.4 L540.3 1352.3 L568.1 1359.4 L585.6 1365.8 L595.1 1368.9 L625 1366.6 L629.8 1360.2 L636.1 1345.9 L642.5 1331.7 L656.7 1325.3 L664.7 1322.1 L675.8 1317.4 L681.3 1315.1"/>
<path d="M708.5 1381.3 L702.8 1383.2 L688.2 1388.2 L685.7 1394.6 L681.2 1402.8 L665.4 1410.4 L661.6 1416.2 L652.7 1423.1 L648 1432.3"/>
<path d="M19.2 1394.3 L24.8 1396.7 L31.1 1398.3"/>
<path d="M54.1 1420.2 L56.5 1425.3 L58.9 1431.6"/>
<path d="M239.7 1420.2 L229.4 1425.3 L221.5 1431.6"/>
</g></g>
<path d="M27.2 744.4 L27.8 745.9 L45 763.3 L60.8 780.5 L76.7 792.5 L95.7 809.7 L109.6 822.9 L122.3 834.4 L135 845.7 L147.7 858.2 L160.4 869.9 L173.1 882.6 L185.7 894.2 L198.2 906.9 L206 914.9 L219.6 927.4 L231.8 938.2 L245 951 L257.7 964.4 L270.4 976.5 L283.1 987.9 L295.7 999.3 L309.6 1012.1 L322.3 1022.9 L335 1034.9 L347.7 1046.3 L354 1050.1 L360.4 1054.6 L373.1 1062.8 L385.7 1070.4 L398.4 1077.4 L404.8 1081.9 L408.6 1086.3 L411.1 1087.6 L417.5 1087.6 L423.8 1090.4 L434.4 1097.2 L445.6 1103.6 L458.2 1113.1 L474.1 1122.6 L490 1131.4 L505.8 1136.9 L521.7 1140.9 L529.8 1143.2 L536.7 1140.1 L539.9 1134.4 L538 1131.2 L540.5 1125.5 L543.7 1122 L548.2 1122.9 L555.1 1128 L564 1131.8 L576.7 1135.6 L585.6 1141.3 L592.6 1146.4 L593.8 1149 L597.7 1150.9 L600.8 1157.2 L605.5 1162.4 L609.3 1166.2 L609.3 1173.8 L611.2 1181.4 L615 1190.3 L621.3 1194.8 L628.9 1199.8 L634 1197 L640.4 1203.6 L644.2 1206.2 L649.2 1206.8 L653.1 1210 L655 1213.8 L659.4 1217 L664.5 1219.5 L666.4 1223.3 L666.4 1228.4 L663.2 1234.1 L660 1240.4 L660.7 1247.4 L662 1255.1 L662 1267.8 L660.7 1276.7 L664.5 1286.8 L670.2 1299.5 L674 1309 L677.8 1319.8 L682.3 1330 L686.7 1340.4 L689.1 1347.1 L694.2 1359.1 L698.6 1369.9 L703.1 1382.6 L708.1 1397.2 L712.6 1411.8 L716.4 1424.5 L718.1 1431.4 L719.1 1435.4" fill="none" stroke="#000" stroke-width="2.7" stroke-linejoin="round"/>
<g fill="none" stroke="#000" stroke-width="3" stroke-linejoin="round" stroke-linecap="round">
<path d="M543.7 1122 L545 1118.5 L549.4 1112.8 L553.9 1111.5 L558.9 1115.3 L561.5 1119.1 L564 1122.9"/>
<path d="M545 1118.5 L549.4 1119.1 L552.6 1122.9 L557.7 1125.5 L562.8 1126.7"/>
<path d="M549.4 1125.5 L552.6 1128 L557.7 1128"/>
</g>
<polygon points="572.2,1102.2 578.3,1121 598.1,1121 582.1,1132.6 588.2,1151.4 572.2,1139.8 556.2,1151.4 562.3,1132.6 546.3,1121 566.1,1121" fill="#000"/>
<text x="598.2" y="1114.9" font-size="45" fill="#1d1d1b">Ancona</text>
<text x="27.3" y="975.3" font-size="30" fill="#1d1d1b" transform="rotate(-31.5 27.3 975.3)">Metauro R.</text>
<text x="47.1" y="1080.3" font-size="30" fill="#1d1d1b" transform="rotate(-41 47.1 1080.3)">Cesano River</text>
<text x="109.1" y="1170.8" font-size="30" fill="#1d1d1b" transform="rotate(-45.7 109.1 1170.8)">Misa River</text>
<text x="245.6" y="1268.8" font-size="30" fill="#1d1d1b" transform="rotate(-46.3 245.6 1268.8)">Esino River</text>
<text x="440.6" y="1303.8" font-size="30" fill="#1d1d1b" transform="rotate(-19.4 440.6 1303.8)">Musone River</text>
<text x="580.6" y="1423.3" font-size="30" fill="#1d1d1b" transform="rotate(-27 580.6 1423.3)">Potenza</text>
<text x="96.1" y="807.4" font-size="22.3" fill="#1d1d1b">01</text>
<text x="114.3" y="787.5" font-size="22.3" fill="#1d1d1b">02</text>
<text x="139.7" y="766.9" font-size="22.3" fill="#1d1d1b">03</text>
<text x="196" y="793.9" font-size="22.3" fill="#1d1d1b">04</text>
<text x="186.5" y="848.6" font-size="22.3" fill="#1d1d1b">05</text>
<text x="167.5" y="873.2" font-size="22.3" fill="#1d1d1b">06</text>
<text x="204.7" y="909.7" font-size="22.3" fill="#1d1d1b">07</text>
<text x="224.6" y="888.3" font-size="22.3" fill="#1d1d1b">08</text>
<text x="229.3" y="833.5" font-size="22.3" fill="#1d1d1b">09</text>
<text x="299.1" y="893.8" font-size="22.3" fill="#1d1d1b">10</text>
<text x="281.3" y="938.3" font-size="22.3" fill="#1d1d1b">11</text>
<text x="265.8" y="964.4" font-size="22.3" fill="#1d1d1b">12</text>
<text x="303" y="1004.6" font-size="22.3" fill="#1d1d1b">13</text>
<text x="322.1" y="980.6" font-size="22.3" fill="#1d1d1b">14</text>
<text x="344.3" y="953.3" font-size="22.3" fill="#1d1d1b">15</text>
<text x="402.2" y="895.4" font-size="22.3" fill="#1d1d1b">16</text>
<text x="394.3" y="996.4" font-size="22.3" fill="#1d1d1b">17</text>
<text x="366.5" y="1017.8" font-size="22.3" fill="#1d1d1b">18</text>
<text x="345.1" y="1037.7" font-size="22.3" fill="#1d1d1b">19</text>
<text x="451.4" y="1104.3" font-size="22.3" fill="#1d1d1b">20</text>
<text x="422.9" y="1059.9" font-size="22.3" fill="#1d1d1b">21</text>
<text x="489.5" y="1059.9" font-size="22.3" fill="#1d1d1b">22</text>
<text x="479.2" y="1002.8" font-size="22.3" fill="#1d1d1b">23</text>
<text x="698.7" y="1357.9" font-size="22.3" fill="#1d1d1b">24</text>
<text x="728" y="1349.9" font-size="22.3" fill="#1d1d1b">25</text>
<text x="766.9" y="1347.6" font-size="22.3" fill="#1d1d1b">26</text>
<text x="830.4" y="1330.9" font-size="22.3" fill="#1d1d1b">27</text>
<text x="801.8" y="1243.6" font-size="22.3" fill="#1d1d1b">28</text>
<text x="730.4" y="1268.2" font-size="22.3" fill="#1d1d1b">29</text>
<text x="697.9" y="1276.9" font-size="22.3" fill="#1d1d1b">30</text>
<text x="670.1" y="1290.4" font-size="22.3" fill="#1d1d1b">31</text>
<text x="51.9" y="1387.6" font-size="25.5" fill="#1d1d1b" text-anchor="middle">0</text>
<text x="136.8" y="1387.6" font-size="25.5" fill="#1d1d1b" text-anchor="middle">7,5</text>
<text x="226.9" y="1387.6" font-size="25.5" fill="#1d1d1b" text-anchor="middle">15</text>
<rect x="48.4" y="1394.9" width="178.4" height="18.6" fill="#000"/>
<rect x="50.6" y="1397.1" width="85" height="14.2" fill="#bdcbbe"/>
<text x="238.3" y="1411.6" font-size="25" fill="#1d1d1b">km</text>
<rect x="431.6" y="745.8" width="489.5" height="168.6" fill="#fefefe" stroke="#222" stroke-width="1.5"/>
<circle cx="463.7" cy="796.8" r="10.6" fill="none" stroke="#111" stroke-width="1.6"/>
<polygon points="464.6,850.9 443.2,887.7 486.2,887.7" fill="none" stroke="#222" stroke-width="1.3"/>
<text x="490.7" y="788.2" font-size="24.7" fill="#1d1d1b">2022 flood</text>
<text x="490.7" y="815.7" font-size="24.7" fill="#1d1d1b">sediments</text>
<text x="492.4" y="860.6" font-size="24.7" fill="#1d1d1b">sediments underlying</text>
<text x="492.4" y="888.4" font-size="24.7" fill="#1d1d1b">the flood event</text>
<text x="686.9" y="788.9" font-size="25.6" fill="#1d1d1b">Terrigenous OM (%)</text>
<rect x="741.1" y="804.1" width="40.3" height="26.8" fill="#e31e24"/>
<rect x="741.1" y="835.8" width="40.3" height="26.8" fill="#009846"/>
<rect x="741.1" y="867.1" width="40.3" height="26.8" fill="#a79bce"/>
<text x="790" y="825.2" font-size="24" fill="#1d1d1b">79-94</text>
<text x="790" y="856" font-size="24" fill="#1d1d1b">60-78</text>
<text x="790" y="888" font-size="24" fill="#1d1d1b">38-59</text>
</g>
<rect x="20.2" y="745.8" width="900.9" height="683.8" fill="none" stroke="#111" stroke-width="2.3"/>
<g clip-path="url(#cp4)">
<rect x="967.3" y="745.4" width="900.6" height="683.5" fill="url(#sea4)"/>
<g fill="none" stroke="#189fe2" stroke-width="1.4" stroke-dasharray="5 2.6">
<path d="M995.1 743.9 L1006.2 756.6 L1015.7 762.9 L1021.2 770.1 L1030 778.8 L1037.9 783.9 L1049 794.7 L1055.3 801.8 L1063.3 807.3 L1077.6 820 L1090.2 831.1 L1101.3 838.3 L1112.5 847.8 L1118.8 856.5 L1131.5 869.2 L1141 877.1 L1150.5 885.9 L1164.8 899.4 L1177.5 910.5 L1187 917.6 L1191.8 926.3 L1204.5 939 L1220.3 953.3 L1236.2 967.6 L1245.7 975.5 L1262.4 989.3 L1278.2 1002 L1294.1 1011.5 L1310 1024.2 L1316.3 1033.7 L1329 1043.2 L1341.7 1050.3 L1357.6 1060.7 L1373.4 1070.2 L1382.9 1076.5 L1397.2 1082.9 L1413.1 1090.8 L1424.2 1096.4 L1436.9 1100.3 L1452.7 1108.3 L1468.6 1114.6 L1481.3 1119.4 L1489.2 1118.6"/>
<path d="M1560.4 1174.5 L1563.6 1184 L1570 1190.3 L1577.9 1196.7 L1589 1203 L1596.9 1209.4 L1608 1215.7 L1605.6 1228.5 L1608 1239.7 L1612.7 1246 L1614.3 1258.7 L1619.1 1269.8 L1623.9 1284.1 L1630.2 1295.2 L1641.3 1312.6 L1646.1 1325.3 L1649.2 1338 L1652.4 1353.9 L1658.8 1361.8 L1661.9 1366.6 L1665.1 1377.7"/>
<path d="M1171.9 743.9 L1188.6 759.8 L1204.5 775.6 L1220.3 788.3 L1236.2 801 L1246.5 810.5 L1262.4 824.8 L1278.2 837.5 L1294.1 851.8 L1310 866 L1325.8 881.9 L1341.7 894.6 L1357.6 908.9 L1373.4 921.6 L1389.3 934.3 L1405.1 947 L1421 959.6 L1436.9 971.8 L1452.7 984.5 L1468.6 998.8 L1484.5 1009.9 L1500.3 1022.6 L1516.2 1033.7 L1532.1 1046.4 L1538.2 1052.3 L1554.1 1065 L1570 1077.7 L1585.8 1090.4 L1601.7 1099.9 L1617.6 1107.8 L1633.4 1118.9 L1649.3 1130 L1658.8 1134.8 L1665.1 1141.1 L1673.1 1150.7 L1681 1161.8 L1688.9 1172.9 L1696.9 1179.2 L1704.8 1184 L1709.6 1190.3 L1712.7 1198.3 L1715.9 1204.6 L1723.8 1210.9 L1730.2 1217.3 L1735 1226.8 L1738.1 1234.7 L1742.9 1242.7 L1746 1250.8 L1753.9 1260.3 L1761.9 1271.4 L1769.8 1282.5 L1774.6 1292 L1779.3 1303.1 L1784.1 1314.2 L1790.4 1323.7 L1795.2 1333.3 L1800 1345.9 L1804.7 1358.6 L1807.9 1369.7 L1811.1 1377.7 L1815.8 1387.2 L1822.2 1398.3 L1826.9 1409.4 L1830.1 1420.5 L1832.9 1432.4"/>
<path d="M1256.8 743.9 L1270.3 756.6 L1278.2 764.5 L1294.1 777.2 L1310 789.9 L1325.8 802.6 L1335.3 812.1 L1341.7 820 L1348 826.4 L1357.6 834.3 L1373.4 845.4 L1389.3 859.7 L1457.5 916 L1468.6 924.7 L1484.5 937.4 L1500.3 948.5 L1516.2 961.2 L1532.1 973.9 L1546.5 985 L1571.5 1003.8 L1587.4 1018.1 L1603.2 1032.4 L1619.1 1043.5 L1635 1056.2 L1647.7 1068.9 L1660.3 1080 L1673 1091.1 L1685.7 1100.6 L1698.4 1110.1 L1707.9 1119.6 L1717.5 1129.2 L1730.1 1141.9 L1728.6 1144.3 L1741.3 1155.4 L1752.4 1166.5 L1760.3 1177.6 L1765 1187.3 L1773 1196.8 L1782.5 1212.7 L1793.6 1228.5 L1801.5 1239.7 L1809.5 1252.3 L1815.8 1261.9"/>
<path d="M1847.5 1323.7 L1850.7 1333.3 L1855.5 1345.9 L1860.2 1361.8 L1865 1377.7 L1869 1388.8"/>
<path d="M1313.1 743.9 L1325.8 756.6 L1341.7 769.3 L1357.6 782 L1373.4 793.1 L1378.2 801 L1384.5 807.3 L1392.5 815.3 L1500.3 916 L1516.2 926.3 L1532.1 937.4 L1546.5 947 L1571.5 967.3 L1587.4 983.2 L1603.2 997.5 L1619.1 1008.6 L1635 1019.7 L1650.8 1032.4 L1666.7 1046.7 L1682.6 1060.9 L1698.4 1073.6 L1711.1 1084.7 L1722.2 1095.8 L1738.1 1108.5 L1746 1116.5 L1753.9 1126 L1761.9 1137.1 L1776.2 1150.7 L1792.1 1171.3 L1800 1182.4 L1806.5 1191.9 L1809.5 1196.8 L1825.3 1217.4 L1841.2 1239.7 L1853.9 1261.9 L1861.8 1279.3 L1869 1298.4"/>
<path d="M1558.8 911.8 L1571.5 922.9 L1587.4 937.2 L1600.1 951.5 L1611.2 959.4 L1627 973.7 L1638.1 986.4 L1646.1 994.3 L1657.2 999.1 L1666.7 1007 L1682.6 1022.9 L1698.4 1038.7 L1714.3 1049.8 L1730.1 1060.9 L1746 1073.6 L1761.9 1087.9 L1777.7 1103.8 L1784.1 1113.3 L1793.6 1124.4 L1801.5 1133.9 L1809.5 1143.4 L1814.2 1147.2 L1821.5 1156.3 L1830.1 1166.3"/>
<path d="M1858.6 1214.3 L1869 1230.1"/>
<path d="M1631.8 913.4 L1642.9 924.5 L1650.8 934 L1661.9 941.2 L1674.6 953.1 L1682.6 959.4 L1698.4 970.5 L1714.3 983.2 L1722.2 991.1 L1730.1 1000.7 L1746 1016.5 L1761.9 1030.8 L1777.7 1046.7 L1785.7 1053 L1793.6 1062.5 L1809.5 1076.8 L1825.3 1087.9 L1833.3 1099 L1849.1 1113.3 L1857.1 1124.4 L1869 1138.7"/>
<path d="M1732.5 913.4 L1746 924.5 L1755.5 934 L1761.9 943.5 L1768.2 954.7 L1779.3 959.4 L1788.8 968.9 L1795.2 980 L1801.5 992.7 L1809.5 1007 L1819 1019.7 L1831.7 1029.2 L1841.2 1033.2 L1850.7 1040.3 L1860.2 1051.4 L1869 1062.5"/>
</g>
<text x="1681.2" y="1406.4" font-size="34" fill="#189fe2" text-anchor="middle" transform="rotate(78 1681.2 1406.4)" dominant-baseline="central">-10</text>
<text x="1828.5" y="1290.7" font-size="35" fill="#189fe2" text-anchor="middle" transform="rotate(63 1828.5 1290.7)" dominant-baseline="central">-30</text>
<text x="1847.4" y="1191.9" font-size="35" fill="#189fe2" text-anchor="middle" transform="rotate(60 1847.4 1191.9)" dominant-baseline="central">-50</text>
<g stroke="#1a1a1a" stroke-width="1.6" stroke-linejoin="miter">
<polygon points="1111.2,796.1 1113.9,764.7 1085.4,778" fill="#afd6c8"/><circle cx="1103.5" cy="779.6" r="7.9" fill="#b07d30"/>
<polygon points="1091.7,816.7 1094.4,785.3 1065.9,798.6" fill="#afd6c8"/><circle cx="1084" cy="800.2" r="7.9" fill="#afd6c8"/>
<polygon points="1075.1,836.4 1077.8,805 1049.3,818.3" fill="#afd6c8"/><circle cx="1067.4" cy="819.9" r="7.9" fill="#afd6c8"/>
<polygon points="1152.5,826.2 1155.2,794.8 1126.7,808.1" fill="#fab057"/><circle cx="1144.8" cy="809.7" r="7.9" fill="#fab057"/>
<polygon points="1130.3,845.3 1133,813.9 1104.5,827.2" fill="#fab057"/><circle cx="1122.6" cy="828.8" r="7.9" fill="#fab057"/>
<polygon points="1107.1,866.9 1114.4,836.2 1084.2,845.2" fill="#afd6c8"/><circle cx="1101.9" cy="849.4" r="7.9" fill="#afd6c8"/>
<polygon points="1187.4,867.5 1190.1,836.1 1161.6,849.4" fill="#fab057"/><circle cx="1179.7" cy="851" r="7.9" fill="#fab057"/>
<polygon points="1165,884.4 1167.7,853 1139.2,866.3" fill="#fab057"/><circle cx="1157.3" cy="867.9" r="7.9" fill="#afd6c8"/>
<polygon points="1146.1,905.9 1148.8,874.5 1120.3,887.8" fill="#afd6c8"/><circle cx="1138.4" cy="889.4" r="7.9" fill="#afd6c8"/>
<polygon points="1238.5,913.8 1241.2,882.4 1212.7,895.7" fill="#fab057"/><circle cx="1230.8" cy="897.3" r="7.9" fill="#b07d30"/>
<polygon points="1221,934.4 1223.7,903 1195.2,916.3" fill="#afd6c8"/><circle cx="1213.3" cy="917.9" r="7.9" fill="#fab057"/>
<polygon points="1202.8,957.1 1205.5,925.7 1177,939" fill="#afd6c8"/><circle cx="1195.1" cy="940.6" r="7.9" fill="#afd6c8"/>
<polygon points="1282.3,958.1 1285,926.7 1256.5,940" fill="#fab057"/><circle cx="1274.6" cy="941.6" r="7.9" fill="#fab057"/>
<polygon points="1264.1,979.9 1266.8,948.5 1238.3,961.8" fill="#afd6c8"/><circle cx="1256.4" cy="963.4" r="7.9" fill="#afd6c8"/>
<polygon points="1248.1,998.7 1250.8,967.3 1222.3,980.6" fill="#afd6c8"/><circle cx="1240.4" cy="982.2" r="7.9" fill="#afd6c8"/>
<polygon points="1358.5,874.4 1361.2,843 1332.7,856.3" fill="#fab057"/><circle cx="1350.8" cy="857.9" r="7.9" fill="#b07d30"/>
<polygon points="1368.1,1024.3 1370.8,992.9 1342.3,1006.2" fill="#afd6c8"/><circle cx="1360.4" cy="1007.8" r="7.9" fill="#b07d30"/>
<polygon points="1347.6,1043 1350.3,1011.6 1321.8,1024.9" fill="#b07d30"/><circle cx="1339.9" cy="1026.5" r="7.9" fill="#afd6c8"/>
<polygon points="1330.1,1066.4 1332.8,1035 1304.3,1048.3" fill="#afd6c8"/><circle cx="1322.4" cy="1049.9" r="7.9" fill="#afd6c8"/>
<polygon points="1425.3,1060.5 1428,1029.1 1399.5,1042.4" fill="#afd6c8"/><circle cx="1417.6" cy="1044" r="7.9" fill="#afd6c8"/>
<polygon points="1406.1,1081.1 1408.8,1049.7 1380.3,1063" fill="#afd6c8"/><circle cx="1398.4" cy="1064.6" r="7.9" fill="#fab057"/>
<polygon points="1391.5,1104.9 1394.2,1073.5 1365.7,1086.8" fill="#afd6c8"/><circle cx="1383.8" cy="1088.4" r="7.9" fill="#afd6c8"/>
<polygon points="1466.6,1023.1 1469.3,991.7 1440.8,1005" fill="#fab057"/><circle cx="1458.9" cy="1006.6" r="7.9" fill="#b07d30"/>
<polygon points="1731.5,1274 1747.3,1246.7 1715.7,1246.7" fill="#fab057"/><circle cx="1731.5" cy="1255.8" r="7.9" fill="#b07d30"/>
<polygon points="1686,1302.3 1700.2,1274.1 1668.8,1275.9" fill="#afd6c8"/><circle cx="1685" cy="1284.1" r="7.9" fill="#fab057"/>
<polygon points="1659.1,1310.5 1673.3,1282.3 1641.9,1284.1" fill="#afd6c8"/><circle cx="1658.1" cy="1292.3" r="7.9" fill="#fab057"/>
<polygon points="1633.9,1324.5 1649.1,1296.9 1617.6,1297.5" fill="#afd6c8"/><circle cx="1633.5" cy="1306.3" r="7.9" fill="#afd6c8"/>
<polygon points="1771.7,1365.6 1789.5,1339.7 1758.1,1337.2" fill="#009846"/><circle cx="1773.1" cy="1347.5" r="7.9" fill="#b07d30"/>
<polygon points="1713.3,1379.9 1731.1,1354 1699.7,1351.5" fill="#afd6c8"/><circle cx="1714.7" cy="1361.8" r="7.9" fill="#afd6c8"/>
<polygon points="1686,1385 1703.8,1359.1 1672.4,1356.6" fill="#afd6c8"/><circle cx="1687.4" cy="1366.9" r="7.9" fill="#b07d30"/>
<polygon points="1659.4,1395.3 1677.2,1369.4 1645.8,1366.9" fill="#afd6c8"/><circle cx="1660.8" cy="1377.2" r="7.9" fill="#afd6c8"/>
</g>
<polygon points="974.1,744.3 974.7,745.8 991.9,763.2 1007.7,780.4 1023.6,792.4 1042.6,809.6 1056.5,822.8 1069.2,834.3 1081.9,845.6 1094.6,858.1 1107.3,869.8 1120,882.5 1132.6,894.1 1145.1,906.8 1152.9,914.8 1166.5,927.3 1178.7,938.1 1191.9,950.9 1204.6,964.3 1217.3,976.4 1230,987.8 1242.6,999.2 1256.5,1012 1269.2,1022.8 1281.9,1034.8 1294.6,1046.2 1300.9,1050 1307.3,1054.5 1320,1062.7 1332.6,1070.3 1345.3,1077.3 1351.7,1081.8 1355.5,1086.2 1358,1087.5 1364.4,1087.5 1370.7,1090.3 1381.3,1097.1 1392.5,1103.5 1405.1,1113 1421,1122.5 1436.9,1131.3 1452.7,1136.8 1468.6,1140.8 1476.7,1143.1 1483.6,1140 1486.8,1134.3 1484.9,1131.1 1487.4,1125.4 1490.6,1121.9 1495.1,1122.8 1502,1127.9 1510.9,1131.7 1523.6,1135.5 1532.5,1141.2 1539.5,1146.3 1540.7,1148.9 1544.6,1150.8 1547.7,1157.1 1552.4,1162.3 1556.2,1166.1 1556.2,1173.7 1558.1,1181.3 1561.9,1190.2 1568.2,1194.7 1575.8,1199.7 1580.9,1196.9 1587.3,1203.5 1591.1,1206.1 1596.1,1206.7 1600,1209.9 1601.9,1213.7 1606.3,1216.9 1611.4,1219.4 1613.3,1223.2 1613.3,1228.3 1610.1,1234 1606.9,1240.3 1607.6,1247.3 1608.9,1255 1608.9,1267.7 1607.6,1276.6 1611.4,1286.7 1617.1,1299.4 1620.9,1308.9 1624.7,1319.7 1629.2,1329.9 1633.6,1340.3 1636,1347 1641.1,1359 1645.5,1369.8 1650,1382.5 1655,1397.1 1659.5,1411.7 1663.3,1424.4 1665,1431.3 1666,1435.3 961.5,1434.3 961.5,740.3" fill="#bac8bb"/>
<clipPath id="lc4"><polygon points="974.1,744.3 974.7,745.8 991.9,763.2 1007.7,780.4 1023.6,792.4 1042.6,809.6 1056.5,822.8 1069.2,834.3 1081.9,845.6 1094.6,858.1 1107.3,869.8 1120,882.5 1132.6,894.1 1145.1,906.8 1152.9,914.8 1166.5,927.3 1178.7,938.1 1191.9,950.9 1204.6,964.3 1217.3,976.4 1230,987.8 1242.6,999.2 1256.5,1012 1269.2,1022.8 1281.9,1034.8 1294.6,1046.2 1300.9,1050 1307.3,1054.5 1320,1062.7 1332.6,1070.3 1345.3,1077.3 1351.7,1081.8 1355.5,1086.2 1358,1087.5 1364.4,1087.5 1370.7,1090.3 1381.3,1097.1 1392.5,1103.5 1405.1,1113 1421,1122.5 1436.9,1131.3 1452.7,1136.8 1468.6,1140.8 1476.7,1143.1 1483.6,1140 1486.8,1134.3 1484.9,1131.1 1487.4,1125.4 1490.6,1121.9 1495.1,1122.8 1502,1127.9 1510.9,1131.7 1523.6,1135.5 1532.5,1141.2 1539.5,1146.3 1540.7,1148.9 1544.6,1150.8 1547.7,1157.1 1552.4,1162.3 1556.2,1166.1 1556.2,1173.7 1558.1,1181.3 1561.9,1190.2 1568.2,1194.7 1575.8,1199.7 1580.9,1196.9 1587.3,1203.5 1591.1,1206.1 1596.1,1206.7 1600,1209.9 1601.9,1213.7 1606.3,1216.9 1611.4,1219.4 1613.3,1223.2 1613.3,1228.3 1610.1,1234 1606.9,1240.3 1607.6,1247.3 1608.9,1255 1608.9,1267.7 1607.6,1276.6 1611.4,1286.7 1617.1,1299.4 1620.9,1308.9 1624.7,1319.7 1629.2,1329.9 1633.6,1340.3 1636,1347 1641.1,1359 1645.5,1369.8 1650,1382.5 1655,1397.1 1659.5,1411.7 1663.3,1424.4 1665,1431.3 1666,1435.3 961.5,1434.3 961.5,740.3"/></clipPath>
<g clip-path="url(#lc4)">
<g fill="none" stroke="#716f6f" stroke-width="2.8" stroke-linejoin="round" stroke-linecap="round">
<path d="M1045.9 814.9 L1044.3 821.2 L1042.7 823.6 L1044.3 835.5 L1046.7 851.4 L1049.1 867.2 L1049.9 879.9 L1047.5 889.4 L1041.2 898.9 L1031.6 906.9 L1023.7 913.2 L1018.9 919.6 L1011 921.2 L1007.8 919.6 L1001.5 911.6 L993.6 903.7 L980.9 891 L974.5 890.2 L965 886.3"/>
<path d="M1089.5 853.7 L1090.3 861.7 L1083.2 869.6 L1087.2 876.7 L1088.7 881.5 L1091.9 881.5"/>
<path d="M1100.6 907.7 L1099.8 911.6 L1100.6 919.6 L1096.7 925.9 L1093.5 935.4 L1087.2 938.6 L1076.1 938.6 L1068.1 941.8 L1060.2 940.2 L1053 938.6"/>
<path d="M1100.6 919.6 L1107.8 925.9 L1117.3 921.9 L1123.6 921.9 L1131.6 927.5 L1133.2 933.8 L1141.1 945 L1142.7 952.9 L1152.2 960.8 L1163.3 957.6 L1176 951.3 L1187.1 948.1"/>
<path d="M1187.1 950.5 L1177.6 965.6 L1179.2 966.6 L1180.8 976.2 L1180 985.7 L1171.2 992 L1161.7 1001.5 L1155.4 1007.9 L1149 1011.1 L1147.4 1017.4 L1136.3 1022.2 L1128.4 1022.2 L1125.2 1026.9 L1118.9 1026.9 L1112.5 1023.8 L1104.6 1026.9 L1098.3 1034.9 L1095.1 1041.2 L1088.7 1044.4 L1082.4 1052.3 L1076.1 1055.5 L1068.1 1063.4 L1060.2 1069.8 L1052.3 1076.1 L1044.3 1080.9 L1034.8 1083.3 L1030 1088.8 L1023.7 1099.9 L1017.4 1106.3 L1014.2 1117.4 L1007.8 1123.7 L1003.1 1131.6 L998.3 1136.4 L995.1 1145.9 L988.8 1147.5 L980.9 1153.8 L972.9 1163.4 L965 1171.3"/>
<path d="M1180 985.7 L1182.3 995.2 L1185.5 1001.5 L1191.9 1003.1 L1199.8 998.4 L1209.3 995.2 L1218.8 994.4 L1225.2 996 L1226.8 988.9 L1228.4 985.7 L1234.7 985.7"/>
<path d="M997.5 971.4 L999.1 974.6 L1006.2 974.6 L1008.6 977.8 L1009.4 987.3 L1015.8 995.2 L1012.6 1003.1 L1007.8 1007.9 L1006.2 1015.8 L1003.1 1020.6 L999.9 1022.2 L993.6 1026.9 L985.6 1033.3 L977.7 1038 L971.3 1044.4 L965 1047.6"/>
<path d="M1236.3 998.4 L1237.9 1004.7 L1241 1012.7 L1247.4 1020.6 L1245.8 1025.3 L1241 1030.1 L1237.9 1036.5 L1236.3 1044.4 L1231.5 1049.1 L1226.8 1055.5 L1228.4 1063.4 L1226.8 1071.4 L1222 1077.7 L1215.7 1085.6 L1212.5 1090.4 L1203 1092 L1193.5 1092 L1188.7 1098.3 L1183.9 1103.1 L1180.8 1111 L1174.4 1118.9 L1169.7 1128.5 L1164.9 1131.6 L1160.1 1142.7 L1155.4 1152.3 L1150.6 1160.2 L1147.4 1166.5 L1152.2 1171.3 L1161.7 1171.3 L1161.7 1182.4 L1158.5 1193.2 L1153.8 1201.2 L1149 1209.9 L1141.1 1209.9 L1138.7 1205.1 L1134.8 1207.5 L1130 1217 L1126.8 1223.4 L1127.6 1229.7 L1122.1 1232.9 L1115.7 1236.1 L1109.4 1240.8 L1104.6 1237.7 L1099.8 1232.9 L1093.5 1231.3 L1087.2 1232.9 L1080.8 1234.5 L1074.5 1232.9 L1070.5 1239.2 L1069.7 1245.6 L1071.3 1251.9 L1068.9 1258.3 L1068.9 1266.2 L1063.4 1271 L1057 1277.3 L1055.4 1283.7 L1050.7 1290 L1047.5 1296.4 L1041.2 1299.5 L1031.6 1304.3 L1023.7 1310.6 L1015.8 1318.6 L1015.8 1324.9 L1011 1331.3 L1003.1 1342.4 L1003.1 1348.7 L996.7 1342.4 L995.1 1336 L990.4 1328.1 L985.6 1326.5 L985.6 1318.6 L983.2 1310.6 L974.5 1310.6 L965 1316.2"/>
<path d="M1226.8 1071.4 L1231.5 1074.5 L1241 1072.1 L1247.4 1071.4 L1252.9 1072.9 L1257.7 1079.3 L1265.6 1085.6 L1276.7 1085.6 L1284.7 1090.4 L1294.2 1092 L1295.8 1098.3 L1292.6 1106.3 L1295.8 1112.6 L1295.8 1120.5 L1300.5 1126.9 L1308.5 1130.1 L1321.2 1128.5 L1324.3 1122.1 L1332.3 1115.8 L1337 1109.4 L1343.4 1104.7 L1356.1 1104.7 L1362.4 1101.5 L1370.3 1093.6"/>
<path d="M1378.3 1096.7 L1379.8 1101.5 L1375.1 1107.8 L1378.3 1112.6 L1387.8 1114.2 L1392.5 1112.6 L1395.7 1118.9 L1403.6 1122.1 L1408.4 1126.9 L1408.4 1134.8 L1413.2 1141.2 L1419.5 1145.9 L1429 1149.1 L1435.4 1155.4 L1444.9 1155.4 L1456 1153.8 L1467.1 1157 L1468.7 1163.4 L1463.9 1168.1 L1457.6 1171.3 L1452.8 1179.2 L1443.3 1191.6 L1440.1 1198 L1429 1202 L1417.9 1205.9 L1413.2 1213.9 L1403.6 1217.8 L1395.7 1217 L1394.9 1223.4 L1396.5 1232.9 L1402.1 1236.1 L1400.5 1245.6 L1402.1 1251.9 L1397.3 1258.3 L1392.5 1260.7 L1381.4 1264.6 L1371.9 1260.7 L1364 1261.5 L1357.6 1267.8 L1350.5 1269.4 L1348.1 1277.3 L1340.2 1280.5 L1333.8 1282.1 L1327.5 1282.1 L1322.7 1285.2 L1313.2 1281.3 L1305.3 1285.2 L1298.9 1286.8 L1292.6 1294.8 L1281.5 1297.1 L1278.3 1307.5 L1273.6 1312.2 L1268.8 1312.2 L1259.3 1320.1 L1249 1321.7 L1241 1315.4 L1226.8 1314.6 L1225.2 1318.6 L1231.5 1329.7 L1226.8 1337.6 L1225.2 1347.1 L1217.2 1351.9 L1204.6 1350.3 L1195 1355.1"/>
<path d="M1467.1 1157 L1475 1158.6 L1483 1161.8 L1492.5 1165 L1500.4 1169.7 L1506.8 1168.1 L1508.4 1160.2 L1513.1 1155.4 L1518.9 1156.4 L1528.5 1160.2 L1541.2 1165.3 L1546.2 1163.4 L1550 1167.8 L1550 1172.2 L1553.8 1180.5 L1555.8 1185.1 L1558.9 1193.1 L1565.3 1197.8 L1573.2 1202.6 L1579.5 1205.9 L1584.3 1213.9 L1585.1 1223.4 L1581.1 1236.1 L1579.5 1248.8 L1582.7 1255.1 L1579.5 1264.6 L1581.1 1271 L1589 1278.9 L1595.4 1286.8 L1600.1 1296.4 L1608.1 1302.7 L1616 1307.5 L1619.2 1310.6"/>
<path d="M1470.7 1155.7 L1468.2 1160.2 L1467.5 1165.3 L1465 1167.2"/>
<path d="M1465 1157 L1470.7 1155.7 L1480.9 1162.7 L1495.5 1167.2 L1498.6 1170.3 L1508.2 1170.3 L1508.8 1167.2 L1505.6 1164.6 L1510.7 1155.7 L1518.9 1156.4"/>
<path d="M1354.5 1429.6 L1371.9 1424.9 L1383 1415.3 L1392.5 1410.6 L1397.3 1401.1 L1410 1397.9 L1422.7 1394.7 L1437 1388.4 L1443.3 1394.7 L1452.8 1395.5 L1457.6 1399.5 L1467.1 1404.2 L1473.5 1409 L1479.8 1411.4 L1489.3 1409 L1498.8 1405.8 L1508.4 1402.6 L1514.7 1397.9"/>
<path d="M1582.7 1367.8 L1586.9 1360.9 L1591.3 1356.4 L1607.2 1353.9 L1618 1356.4 L1625.6 1351.3 L1635.8 1349.4"/>
<path d="M1144.3 1418.5 L1142.7 1423.3 L1134.8 1428.8"/>
</g>
<g fill="none" stroke="#1cc0f4" stroke-width="4" stroke-linejoin="round" stroke-linecap="butt">
<path d="M1085.5 840.7 L1082.4 845.8 L1076.1 856.1 L1066.5 872 L1057 886.3 L1054.6 898.9 L1050.7 902.1 L1039.6 905.3 L1031.6 911.6 L1023.7 919.6 L1018.9 922.7 L1014.2 922.7"/>
<path d="M975.3 933.1 L969.8 937 L967.4 945 L965 949.7"/>
<path d="M1014.2 922.7 L1003.1 925.9 L990.4 929.9 L975.3 933.1"/>
<path d="M1195 948.1 L1189.5 950.5 L1183.9 952.9 L1177.6 961.6 L1174.4 964.8 L1161.7 962.4 L1157 971.1 L1136.3 979.3 L1123.6 998.4 L1106.2 1003.9 L1095.1 1015.8 L1091.9 1023.8 L1063.4 1045.2 L1047.5 1045.2 L1039.6 1058.7 L1030 1069 L1028.5 1072.9 L1012.6 1069 L1015 1077.7 L1011 1095.1 L1006.2 1109.4 L996.7 1125.3 L988.8 1136.4 L984 1136.4 L980.9 1141.2 L968.2 1147.5 L963.4 1151.5"/>
<path d="M1236.9 988.8 L1234.7 994.4 L1233.1 998.4 L1228.4 1004.7 L1223.6 1003.1 L1212.5 1020.6 L1204.6 1023 L1203 1028.5 L1206.1 1036.5 L1198.2 1038 L1191.9 1050.7 L1183.9 1058.7 L1176 1069.8 L1164.9 1082.5 L1161.7 1092 L1155.4 1093.6 L1150.6 1099.9 L1139.5 1120.5 L1136.3 1130.1 L1131.6 1133.2 L1126.8 1142.7 L1117.3 1155.4 L1112.5 1157 L1096.7 1176.1 L1090.3 1173.7 L1074.5 1185.6 L1066.5 1188.8 L1055.4 1189.5 L1052.3 1198.3 L1045.9 1199.1 L1049.1 1210.7 L1044.3 1217 L1041.2 1225 L1038 1234.5"/>
<path d="M1379 1089.9 L1375.1 1094.4 L1370.3 1099.9 L1364 1107.8 L1356.1 1112.6 L1348.1 1125.3 L1340.2 1134.8 L1336.2 1139.6 L1336.2 1158.6 L1335.4 1182.4 L1324.3 1198 L1308.5 1212.3 L1300.5 1225 L1295.8 1229.7 L1294.2 1239.2 L1287.8 1245.6 L1278.3 1248.8 L1268.8 1255.1 L1257.7 1261.5 L1249.8 1265.4 L1234.7 1273.3 L1210.9 1279.7 L1195 1281.3 L1177.6 1278.9 L1161.7 1281.3 L1156.2 1276.5 L1147.4 1278.1 L1126.8 1280.5 L1111 1286.8 L1110.2 1296.4 L1104.6 1298.7 L1093.5 1302.7 L1090.3 1313.8 L1082.4 1312.2 L1076.1 1317 L1066.5 1328.1 L1057 1334.4 L1050.7 1339.2 L1047.5 1345.5 L1039.6 1348.7 L1038 1353.5 L1034.8 1355.8"/>
<path d="M1228.4 1380.4 L1228.4 1374.1 L1233.1 1372.5 L1234.7 1366.2 L1242.6 1366.9 L1245 1366.2 L1251.3 1363 L1252.9 1357.4 L1260.1 1355.8 L1259.3 1348.7 L1264 1342.4 L1272 1337.6 L1280.7 1328.1 L1292.6 1326.5 L1304.5 1329.7 L1306.9 1326.5 L1321.2 1322.5 L1337 1317.8 L1348.9 1309.8 L1366.4 1306.7 L1392.5 1310.6 L1409.2 1311.4 L1424.3 1321.7 L1451.2 1323.3 L1462.3 1328.9 L1470.3 1338.4 L1485.3 1350.3 L1513.1 1357.4 L1530.6 1363.8 L1540.1 1366.9 L1570 1364.6 L1574.8 1358.2 L1581.1 1343.9 L1587.5 1329.7 L1601.7 1323.3 L1609.7 1320.1 L1620.8 1315.4 L1626.3 1313.1"/>
<path d="M1653.5 1379.3 L1647.8 1381.2 L1633.2 1386.2 L1630.7 1392.6 L1626.2 1400.8 L1610.4 1408.4 L1606.6 1414.2 L1597.7 1421.1 L1593 1430.3"/>
<path d="M964.2 1392.3 L969.8 1394.7 L976.1 1396.3"/>
<path d="M999.1 1418.2 L1001.5 1423.3 L1003.9 1429.6"/>
<path d="M1184.7 1418.2 L1174.4 1423.3 L1166.5 1429.6"/>
</g></g>
<path d="M974.1 744.3 L974.7 745.8 L991.9 763.2 L1007.7 780.4 L1023.6 792.4 L1042.6 809.6 L1056.5 822.8 L1069.2 834.3 L1081.9 845.6 L1094.6 858.1 L1107.3 869.8 L1120 882.5 L1132.6 894.1 L1145.1 906.8 L1152.9 914.8 L1166.5 927.3 L1178.7 938.1 L1191.9 950.9 L1204.6 964.3 L1217.3 976.4 L1230 987.8 L1242.6 999.2 L1256.5 1012 L1269.2 1022.8 L1281.9 1034.8 L1294.6 1046.2 L1300.9 1050 L1307.3 1054.5 L1320 1062.7 L1332.6 1070.3 L1345.3 1077.3 L1351.7 1081.8 L1355.5 1086.2 L1358 1087.5 L1364.4 1087.5 L1370.7 1090.3 L1381.3 1097.1 L1392.5 1103.5 L1405.1 1113 L1421 1122.5 L1436.9 1131.3 L1452.7 1136.8 L1468.6 1140.8 L1476.7 1143.1 L1483.6 1140 L1486.8 1134.3 L1484.9 1131.1 L1487.4 1125.4 L1490.6 1121.9 L1495.1 1122.8 L1502 1127.9 L1510.9 1131.7 L1523.6 1135.5 L1532.5 1141.2 L1539.5 1146.3 L1540.7 1148.9 L1544.6 1150.8 L1547.7 1157.1 L1552.4 1162.3 L1556.2 1166.1 L1556.2 1173.7 L1558.1 1181.3 L1561.9 1190.2 L1568.2 1194.7 L1575.8 1199.7 L1580.9 1196.9 L1587.3 1203.5 L1591.1 1206.1 L1596.1 1206.7 L1600 1209.9 L1601.9 1213.7 L1606.3 1216.9 L1611.4 1219.4 L1613.3 1223.2 L1613.3 1228.3 L1610.1 1234 L1606.9 1240.3 L1607.6 1247.3 L1608.9 1255 L1608.9 1267.7 L1607.6 1276.6 L1611.4 1286.7 L1617.1 1299.4 L1620.9 1308.9 L1624.7 1319.7 L1629.2 1329.9 L1633.6 1340.3 L1636 1347 L1641.1 1359 L1645.5 1369.8 L1650 1382.5 L1655 1397.1 L1659.5 1411.7 L1663.3 1424.4 L1665 1431.3 L1666 1435.3" fill="none" stroke="#000" stroke-width="2.7" stroke-linejoin="round"/>
<g fill="none" stroke="#000" stroke-width="3" stroke-linejoin="round" stroke-linecap="round">
<path d="M1490.6 1121.9 L1491.9 1118.4 L1496.3 1112.7 L1500.8 1111.4 L1505.8 1115.2 L1508.4 1119 L1510.9 1122.8"/>
<path d="M1491.9 1118.4 L1496.3 1119 L1499.5 1122.8 L1504.6 1125.4 L1509.7 1126.6"/>
<path d="M1496.3 1125.4 L1499.5 1127.9 L1504.6 1127.9"/>
</g>
<polygon points="1519.1,1102.1 1525.2,1120.9 1545,1120.9 1529,1132.5 1535.1,1151.3 1519.1,1139.7 1503.1,1151.3 1509.2,1132.5 1493.2,1120.9 1513,1120.9" fill="#000"/>
<text x="1544.4" y="1114.8" font-size="45" fill="#1d1d1b">Ancona</text>
<text x="973.5" y="975.2" font-size="30" fill="#1d1d1b" transform="rotate(-31.5 973.5 975.2)">Metauro R.</text>
<text x="993.3" y="1080.2" font-size="30" fill="#1d1d1b" transform="rotate(-41 993.3 1080.2)">Cesano River</text>
<text x="1055.3" y="1170.7" font-size="30" fill="#1d1d1b" transform="rotate(-45.7 1055.3 1170.7)">Misa River</text>
<text x="1191.8" y="1268.7" font-size="30" fill="#1d1d1b" transform="rotate(-46.3 1191.8 1268.7)">Esino River</text>
<text x="1386.8" y="1303.7" font-size="30" fill="#1d1d1b" transform="rotate(-19.4 1386.8 1303.7)">Musone River</text>
<text x="1526.8" y="1423.2" font-size="30" fill="#1d1d1b" transform="rotate(-27 1526.8 1423.2)">Potenza</text>
<text x="1041.5" y="807.7" font-size="22.3" fill="#1d1d1b">01</text>
<text x="1059.7" y="787.8" font-size="22.3" fill="#1d1d1b">02</text>
<text x="1085.1" y="767.2" font-size="22.3" fill="#1d1d1b">03</text>
<text x="1141.4" y="794.2" font-size="22.3" fill="#1d1d1b">04</text>
<text x="1131.9" y="848.9" font-size="22.3" fill="#1d1d1b">05</text>
<text x="1112.9" y="873.5" font-size="22.3" fill="#1d1d1b">06</text>
<text x="1150.1" y="910" font-size="22.3" fill="#1d1d1b">07</text>
<text x="1170" y="888.6" font-size="22.3" fill="#1d1d1b">08</text>
<text x="1174.7" y="833.8" font-size="22.3" fill="#1d1d1b">09</text>
<text x="1244.5" y="894.1" font-size="22.3" fill="#1d1d1b">10</text>
<text x="1226.7" y="938.6" font-size="22.3" fill="#1d1d1b">11</text>
<text x="1211.2" y="964.7" font-size="22.3" fill="#1d1d1b">12</text>
<text x="1248.4" y="1004.9" font-size="22.3" fill="#1d1d1b">13</text>
<text x="1267.5" y="980.9" font-size="22.3" fill="#1d1d1b">14</text>
<text x="1289.7" y="953.6" font-size="22.3" fill="#1d1d1b">15</text>
<text x="1347.6" y="895.7" font-size="22.3" fill="#1d1d1b">16</text>
<text x="1339.7" y="996.7" font-size="22.3" fill="#1d1d1b">17</text>
<text x="1311.9" y="1018.1" font-size="22.3" fill="#1d1d1b">18</text>
<text x="1290.5" y="1038" font-size="22.3" fill="#1d1d1b">19</text>
<text x="1396.8" y="1104.6" font-size="22.3" fill="#1d1d1b">20</text>
<text x="1368.3" y="1060.2" font-size="22.3" fill="#1d1d1b">21</text>
<text x="1434.9" y="1060.2" font-size="22.3" fill="#1d1d1b">22</text>
<text x="1424.6" y="1003.1" font-size="22.3" fill="#1d1d1b">23</text>
<text x="1644.1" y="1358.2" font-size="22.3" fill="#1d1d1b">24</text>
<text x="1673.4" y="1350.2" font-size="22.3" fill="#1d1d1b">25</text>
<text x="1712.3" y="1347.9" font-size="22.3" fill="#1d1d1b">26</text>
<text x="1775.8" y="1331.2" font-size="22.3" fill="#1d1d1b">27</text>
<text x="1747.2" y="1243.9" font-size="22.3" fill="#1d1d1b">28</text>
<text x="1675.8" y="1268.5" font-size="22.3" fill="#1d1d1b">29</text>
<text x="1643.3" y="1277.2" font-size="22.3" fill="#1d1d1b">30</text>
<text x="1615.5" y="1290.7" font-size="22.3" fill="#1d1d1b">31</text>
<text x="998.1" y="1387.5" font-size="25.5" fill="#1d1d1b" text-anchor="middle">0</text>
<text x="1083" y="1387.5" font-size="25.5" fill="#1d1d1b" text-anchor="middle">7,5</text>
<text x="1173.1" y="1387.5" font-size="25.5" fill="#1d1d1b" text-anchor="middle">15</text>
<rect x="994.6" y="1394.8" width="178.4" height="18.6" fill="#000"/>
<rect x="996.8" y="1397" width="85" height="14.2" fill="#bdcbbe"/>
<text x="1184.5" y="1411.5" font-size="25" fill="#1d1d1b">km</text>
<rect x="1378.6" y="745.4" width="489.3" height="168.1" fill="#fefefe" stroke="#222" stroke-width="1.5"/>
<circle cx="1407" cy="796.4" r="10.6" fill="none" stroke="#111" stroke-width="1.6"/>
<polygon points="1407.9,850.7 1386.5,887.4 1429.3,887.4" fill="none" stroke="#222" stroke-width="1.3"/>
<text x="1433.8" y="788.2" font-size="24.7" fill="#1d1d1b">2022 flood</text>
<text x="1433.8" y="815.3" font-size="24.7" fill="#1d1d1b">sediments</text>
<text x="1435.4" y="860.2" font-size="24.7" fill="#1d1d1b">sediments underlying</text>
<text x="1435.4" y="888.2" font-size="24.7" fill="#1d1d1b">the flood event</text>
<text x="1675.5" y="782.9" font-size="27" fill="#1d1d1b">TOC (%)</text>
<rect x="1676.2" y="803.4" width="40.3" height="26.4" fill="#b07d30"/>
<rect x="1676.2" y="835.4" width="40.3" height="26.4" fill="#fab057"/>
<rect x="1676.2" y="866.4" width="40.3" height="26.5" fill="#afd6c8"/>
<text x="1724.4" y="824.8" font-size="26.5" fill="#1d1d1b">0.58 - 1.1</text>
<text x="1724.4" y="856" font-size="26.5" fill="#1d1d1b">0.28 - 0.57</text>
<text x="1724.4" y="888.4" font-size="26.5" fill="#1d1d1b">0.07- 0.27</text>
</g>
<rect x="967.3" y="745.4" width="900.6" height="683.5" fill="none" stroke="#111" stroke-width="2.3"/>
<line x1="100" y1="1490" x2="148" y2="1490" stroke="#1cc0f4" stroke-width="3"/>
<text x="161" y="1505" font-size="42.8" fill="#1d1d1b">River</text>
<line x1="389" y1="1490" x2="434" y2="1490" stroke="#716f6f" stroke-width="2.2"/>
<text x="449" y="1502" font-size="42.7" fill="#1d1d1b">Drainage divide</text>
<line x1="843" y1="1490" x2="891" y2="1490" stroke="#189fe2" stroke-width="1.8" stroke-dasharray="13 4.5"/>
<text x="905" y="1502" font-size="42.6" fill="#1d1d1b">Isobath (10 m)</text>
<rect x="1400" y="1476" width="320.4" height="41" fill="url(#depth)"/>
<path d="M1400.5 1470V1476M1720 1470V1476" stroke="#333" stroke-width="1"/>
<text x="1400.7" y="1466" font-size="26.7" fill="#1d1d1b" text-anchor="middle">0</text>
<text x="1722" y="1466" font-size="26.7" fill="#1d1d1b" text-anchor="middle">80</text>
<text x="1561" y="1505.5" font-size="33" fill="#1d1d1b" text-anchor="middle">Depth (m)</text>
</svg></body></html>
